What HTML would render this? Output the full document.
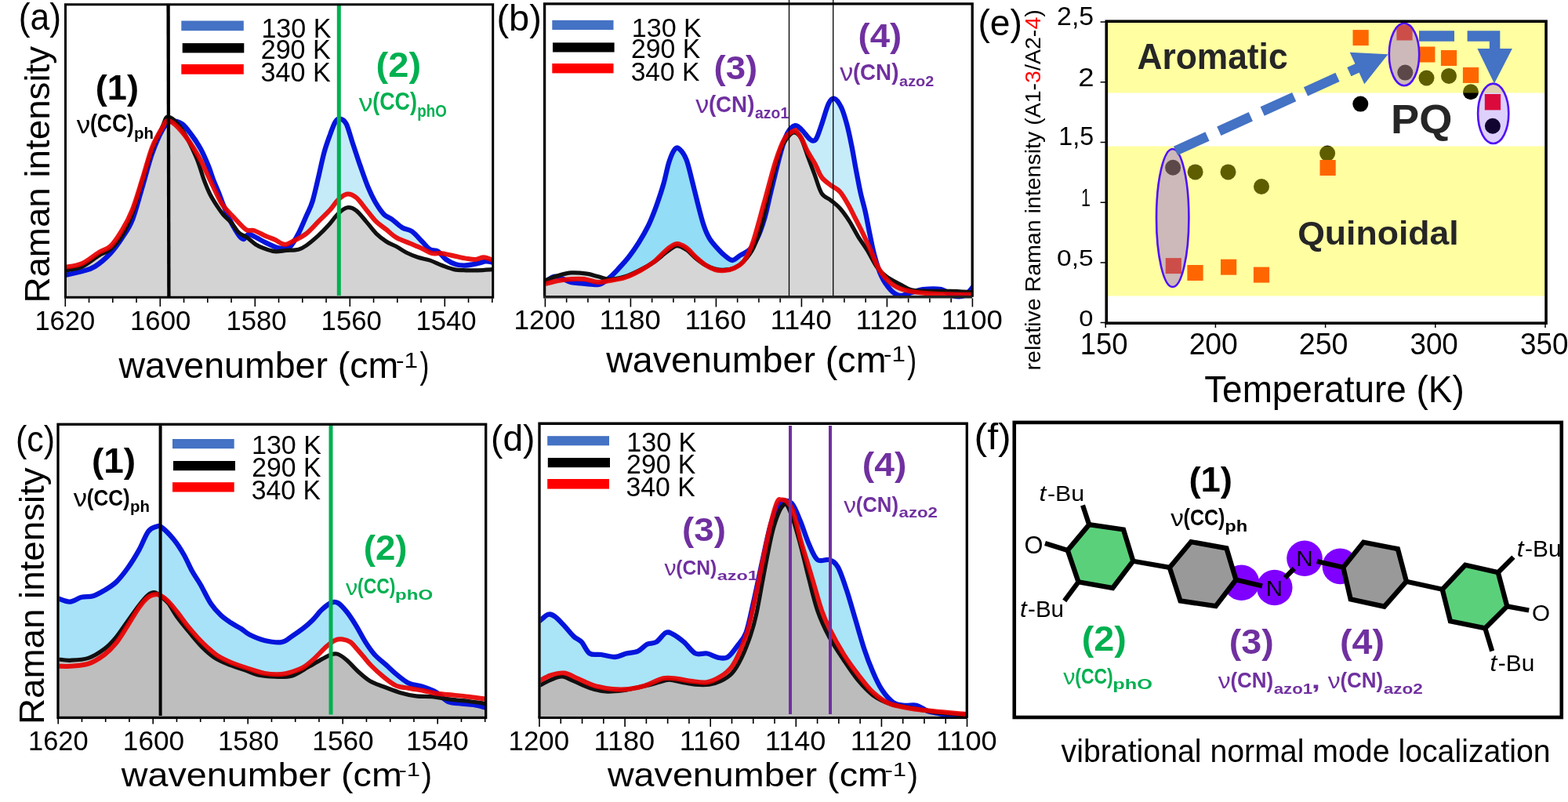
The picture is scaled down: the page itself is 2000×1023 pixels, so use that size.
<!DOCTYPE html>
<html><head><meta charset="utf-8"><title>Raman figure</title>
<style>
html,body{margin:0;padding:0;background:#fff;}
body{width:2000px;height:1023px;overflow:hidden;}
svg{display:block;}
text{font-family:"Liberation Sans",Arial,sans-serif;}
</style></head>
<body>
<svg width="2000" height="1023" viewBox="0 0 2000 1023">
<rect width="2000" height="1023" fill="#fff"/>
<clipPath id="ca"><rect x="84.5" y="6" width="544.5" height="373.5"/></clipPath>
<g clip-path="url(#ca)">
<path d="M83.0,351.0C86.7,350.2 98.7,347.8 105.0,346.0C111.3,344.2 115.0,343.8 121.0,340.0C127.0,336.2 135.2,329.2 141.0,323.0C146.8,316.8 151.3,310.2 156.0,303.0C160.7,295.8 164.7,291.0 169.0,280.0C173.3,269.0 177.8,251.0 182.0,237.0C186.2,223.0 189.8,207.8 194.0,196.0C198.2,184.2 203.2,172.8 207.0,166.0C210.8,159.2 212.8,156.3 217.0,155.0C221.2,153.7 227.3,155.0 232.0,158.0C236.7,161.0 241.0,167.7 245.0,173.0C249.0,178.3 252.5,183.5 256.0,190.0C259.5,196.5 263.3,205.3 266.0,212.0C268.7,218.7 270.1,224.3 272.3,230.0C274.5,235.7 276.9,240.6 279.0,246.0C281.1,251.4 282.9,256.6 285.2,262.3C287.5,268.0 290.5,274.9 293.0,280.0C295.5,285.1 297.8,289.3 300.0,293.0C302.2,296.7 304.2,300.0 306.0,302.0C307.8,304.0 309.2,305.5 311.0,305.0C312.8,304.5 314.3,299.3 317.0,299.0C319.7,298.7 323.7,301.4 327.0,303.0C330.3,304.6 332.5,306.3 337.0,308.5C341.5,310.7 349.5,314.7 354.0,316.0C358.5,317.3 361.2,316.8 364.0,316.5C366.8,316.2 367.7,317.4 370.5,314.3C373.3,311.2 377.3,304.4 380.7,297.8C384.1,291.2 387.9,281.8 390.9,275.0C393.9,268.2 396.0,265.1 398.5,257.0C401.0,248.9 403.5,237.2 406.0,226.6C408.5,216.0 411.1,202.9 413.7,193.6C416.3,184.3 419.1,177.1 421.4,170.7C423.7,164.3 425.6,158.6 427.7,155.4C429.8,152.2 431.7,151.2 434.0,151.6C436.3,152.0 439.1,153.1 441.7,158.0C444.2,162.9 446.3,172.0 449.3,180.9C452.3,189.8 456.1,201.7 459.5,211.4C462.9,221.1 466.3,231.2 469.7,239.3C473.1,247.4 476.4,254.0 479.8,259.7C483.2,265.4 486.6,270.3 490.0,273.7C493.4,277.1 496.4,277.2 500.2,280.0C504.0,282.8 508.7,287.6 512.9,290.2C517.1,292.8 521.4,292.3 525.6,295.3C529.8,298.3 534.5,304.2 538.3,308.0C542.1,311.8 545.1,316.1 548.5,318.2C551.9,320.3 555.3,318.6 558.7,320.7C562.1,322.8 565.0,328.1 568.8,330.9C572.6,333.6 577.2,335.9 581.5,337.2C585.8,338.5 589.6,338.7 594.3,338.5C599.0,338.3 605.3,336.9 609.5,336.0C613.7,335.1 616.5,333.6 619.7,333.4C623.0,333.2 627.5,334.5 629.0,334.7L629.0,379.5L83.0,379.5Z" fill="#c5ebf9"/>
<path d="M83.0,341.0C86.7,340.2 97.8,339.2 105.0,336.0C112.2,332.8 120.0,325.7 126.0,322.0C132.0,318.3 136.0,318.8 141.0,314.0C146.0,309.2 151.3,300.8 156.0,293.0C160.7,285.2 164.7,278.0 169.0,267.0C173.3,256.0 177.8,240.2 182.0,227.0C186.2,213.8 189.8,198.7 194.0,188.0C198.2,177.3 203.5,168.7 207.0,163.0C210.5,157.3 210.8,153.2 215.0,154.0C219.2,154.8 225.7,160.5 232.0,168.0C238.3,175.5 246.7,188.0 253.0,199.0C259.3,210.0 265.0,223.8 270.0,234.0C275.0,244.2 278.3,252.8 283.0,260.0C287.7,267.2 292.8,271.5 298.0,277.0C303.2,282.5 309.7,290.2 314.0,293.0C318.3,295.8 319.7,292.6 324.0,294.0C328.3,295.4 335.6,299.7 340.0,301.6C344.4,303.5 346.4,303.7 350.2,305.4C354.0,307.1 358.7,311.6 362.9,311.8C367.1,312.0 370.9,309.0 375.6,306.7C380.3,304.4 385.8,301.8 390.9,297.8C396.0,293.8 401.0,287.7 406.1,282.6C411.2,277.5 417.2,272.0 421.4,267.3C425.6,262.6 427.9,257.9 431.5,254.6C435.1,251.3 439.2,247.9 443.0,247.5C446.8,247.1 450.4,248.7 454.4,252.0C458.4,255.3 462.9,262.2 467.1,267.3C471.3,272.4 475.6,278.4 479.8,282.6C484.1,286.8 488.4,289.3 492.6,292.7C496.9,296.1 500.2,299.9 505.3,302.9C510.4,305.9 517.6,308.2 523.1,310.5C528.6,312.8 533.6,314.8 538.3,316.9C542.9,319.0 546.8,322.1 551.0,323.2C555.2,324.2 558.6,322.6 563.7,323.2C568.8,323.8 576.4,325.9 581.5,327.0C586.6,328.1 590.0,329.0 594.3,329.6C598.5,330.2 603.2,331.1 607.0,330.9C610.8,330.7 613.5,328.1 617.2,328.3C620.9,328.5 627.0,331.4 629.0,332.0L629.0,379.5L83.0,379.5Z" fill="#fff"/>
<path d="M83.0,345.0C86.7,344.2 97.8,343.2 105.0,340.0C112.2,336.8 120.0,329.7 126.0,326.0C132.0,322.3 136.0,322.3 141.0,318.0C146.0,313.7 151.3,307.7 156.0,300.0C160.7,292.3 164.7,283.7 169.0,272.0C173.3,260.3 177.8,243.5 182.0,230.0C186.2,216.5 189.8,202.3 194.0,191.0C198.2,179.7 203.6,169.0 207.0,162.0C210.4,155.0 210.5,148.5 214.7,149.0C218.9,149.5 226.1,156.5 232.0,165.0C237.9,173.5 245.3,189.2 250.0,200.0C254.7,210.8 257.4,222.0 260.4,230.0C263.4,238.0 265.3,242.6 268.0,248.0C270.7,253.4 273.8,258.0 276.6,262.3C279.4,266.6 282.0,270.4 285.0,274.0C288.0,277.6 291.6,280.0 294.8,283.8C298.1,287.6 301.1,293.5 304.5,296.7C307.9,299.9 311.7,300.6 315.3,303.1C318.9,305.6 322.6,309.5 326.0,311.7C329.4,313.9 332.0,315.0 336.0,316.5C340.0,318.0 345.3,320.2 350.2,320.7C355.1,321.2 360.3,319.8 365.4,319.4C370.5,319.0 376.4,319.3 380.7,318.2C384.9,317.1 386.7,316.0 390.9,313.0C395.1,310.0 401.5,304.6 406.1,300.4C410.8,296.2 414.6,292.3 418.8,287.6C423.0,282.9 427.5,276.2 431.5,272.4C435.5,268.6 439.2,265.4 443.0,264.8C446.8,264.2 450.4,265.6 454.4,268.6C458.4,271.6 462.9,277.7 467.1,282.6C471.3,287.5 475.6,293.6 479.8,297.8C484.1,302.0 488.4,305.2 492.6,308.0C496.9,310.8 501.1,312.0 505.3,314.3C509.5,316.6 513.4,319.7 518.0,322.0C522.6,324.3 528.1,326.6 533.2,328.3C538.3,330.0 543.4,330.4 548.5,332.1C553.6,333.8 558.6,336.6 563.7,338.5C568.8,340.4 573.9,342.6 579.0,343.6C584.1,344.7 589.2,344.6 594.3,344.8C599.4,345.0 603.7,345.0 609.5,344.8C615.3,344.6 625.8,343.8 629.0,343.6L629.0,379.5L83.0,379.5Z" fill="#d3d3d3"/>
<path d="M83.0,351.0C86.7,350.2 98.7,347.8 105.0,346.0C111.3,344.2 115.0,343.8 121.0,340.0C127.0,336.2 135.2,329.2 141.0,323.0C146.8,316.8 151.3,310.2 156.0,303.0C160.7,295.8 164.7,291.0 169.0,280.0C173.3,269.0 177.8,251.0 182.0,237.0C186.2,223.0 189.8,207.8 194.0,196.0C198.2,184.2 203.2,172.8 207.0,166.0C210.8,159.2 212.8,156.3 217.0,155.0C221.2,153.7 227.3,155.0 232.0,158.0C236.7,161.0 241.0,167.7 245.0,173.0C249.0,178.3 252.5,183.5 256.0,190.0C259.5,196.5 263.3,205.3 266.0,212.0C268.7,218.7 270.1,224.3 272.3,230.0C274.5,235.7 276.9,240.6 279.0,246.0C281.1,251.4 282.9,256.6 285.2,262.3C287.5,268.0 290.5,274.9 293.0,280.0C295.5,285.1 297.8,289.3 300.0,293.0C302.2,296.7 304.2,300.0 306.0,302.0C307.8,304.0 309.2,305.5 311.0,305.0C312.8,304.5 314.3,299.3 317.0,299.0C319.7,298.7 323.7,301.4 327.0,303.0C330.3,304.6 332.5,306.3 337.0,308.5C341.5,310.7 349.5,314.7 354.0,316.0C358.5,317.3 361.2,316.8 364.0,316.5C366.8,316.2 367.7,317.4 370.5,314.3C373.3,311.2 377.3,304.4 380.7,297.8C384.1,291.2 387.9,281.8 390.9,275.0C393.9,268.2 396.0,265.1 398.5,257.0C401.0,248.9 403.5,237.2 406.0,226.6C408.5,216.0 411.1,202.9 413.7,193.6C416.3,184.3 419.1,177.1 421.4,170.7C423.7,164.3 425.6,158.6 427.7,155.4C429.8,152.2 431.7,151.2 434.0,151.6C436.3,152.0 439.1,153.1 441.7,158.0C444.2,162.9 446.3,172.0 449.3,180.9C452.3,189.8 456.1,201.7 459.5,211.4C462.9,221.1 466.3,231.2 469.7,239.3C473.1,247.4 476.4,254.0 479.8,259.7C483.2,265.4 486.6,270.3 490.0,273.7C493.4,277.1 496.4,277.2 500.2,280.0C504.0,282.8 508.7,287.6 512.9,290.2C517.1,292.8 521.4,292.3 525.6,295.3C529.8,298.3 534.5,304.2 538.3,308.0C542.1,311.8 545.1,316.1 548.5,318.2C551.9,320.3 555.3,318.6 558.7,320.7C562.1,322.8 565.0,328.1 568.8,330.9C572.6,333.6 577.2,335.9 581.5,337.2C585.8,338.5 589.6,338.7 594.3,338.5C599.0,338.3 605.3,336.9 609.5,336.0C613.7,335.1 616.5,333.6 619.7,333.4C623.0,333.2 627.5,334.5 629.0,334.7" fill="none" stroke="#0515dc" stroke-width="6.3" stroke-linejoin="round"/>
<path d="M83.0,345.0C86.7,344.2 97.8,343.2 105.0,340.0C112.2,336.8 120.0,329.7 126.0,326.0C132.0,322.3 136.0,322.3 141.0,318.0C146.0,313.7 151.3,307.7 156.0,300.0C160.7,292.3 164.7,283.7 169.0,272.0C173.3,260.3 177.8,243.5 182.0,230.0C186.2,216.5 189.8,202.3 194.0,191.0C198.2,179.7 203.6,169.0 207.0,162.0C210.4,155.0 210.5,148.5 214.7,149.0C218.9,149.5 226.1,156.5 232.0,165.0C237.9,173.5 245.3,189.2 250.0,200.0C254.7,210.8 257.4,222.0 260.4,230.0C263.4,238.0 265.3,242.6 268.0,248.0C270.7,253.4 273.8,258.0 276.6,262.3C279.4,266.6 282.0,270.4 285.0,274.0C288.0,277.6 291.6,280.0 294.8,283.8C298.1,287.6 301.1,293.5 304.5,296.7C307.9,299.9 311.7,300.6 315.3,303.1C318.9,305.6 322.6,309.5 326.0,311.7C329.4,313.9 332.0,315.0 336.0,316.5C340.0,318.0 345.3,320.2 350.2,320.7C355.1,321.2 360.3,319.8 365.4,319.4C370.5,319.0 376.4,319.3 380.7,318.2C384.9,317.1 386.7,316.0 390.9,313.0C395.1,310.0 401.5,304.6 406.1,300.4C410.8,296.2 414.6,292.3 418.8,287.6C423.0,282.9 427.5,276.2 431.5,272.4C435.5,268.6 439.2,265.4 443.0,264.8C446.8,264.2 450.4,265.6 454.4,268.6C458.4,271.6 462.9,277.7 467.1,282.6C471.3,287.5 475.6,293.6 479.8,297.8C484.1,302.0 488.4,305.2 492.6,308.0C496.9,310.8 501.1,312.0 505.3,314.3C509.5,316.6 513.4,319.7 518.0,322.0C522.6,324.3 528.1,326.6 533.2,328.3C538.3,330.0 543.4,330.4 548.5,332.1C553.6,333.8 558.6,336.6 563.7,338.5C568.8,340.4 573.9,342.6 579.0,343.6C584.1,344.7 589.2,344.6 594.3,344.8C599.4,345.0 603.7,345.0 609.5,344.8C615.3,344.6 625.8,343.8 629.0,343.6" fill="none" stroke="#111111" stroke-width="5.2" stroke-linejoin="round"/>
<path d="M83.0,341.0C86.7,340.2 97.8,339.2 105.0,336.0C112.2,332.8 120.0,325.7 126.0,322.0C132.0,318.3 136.0,318.8 141.0,314.0C146.0,309.2 151.3,300.8 156.0,293.0C160.7,285.2 164.7,278.0 169.0,267.0C173.3,256.0 177.8,240.2 182.0,227.0C186.2,213.8 189.8,198.7 194.0,188.0C198.2,177.3 203.5,168.7 207.0,163.0C210.5,157.3 210.8,153.2 215.0,154.0C219.2,154.8 225.7,160.5 232.0,168.0C238.3,175.5 246.7,188.0 253.0,199.0C259.3,210.0 265.0,223.8 270.0,234.0C275.0,244.2 278.3,252.8 283.0,260.0C287.7,267.2 292.8,271.5 298.0,277.0C303.2,282.5 309.7,290.2 314.0,293.0C318.3,295.8 319.7,292.6 324.0,294.0C328.3,295.4 335.6,299.7 340.0,301.6C344.4,303.5 346.4,303.7 350.2,305.4C354.0,307.1 358.7,311.6 362.9,311.8C367.1,312.0 370.9,309.0 375.6,306.7C380.3,304.4 385.8,301.8 390.9,297.8C396.0,293.8 401.0,287.7 406.1,282.6C411.2,277.5 417.2,272.0 421.4,267.3C425.6,262.6 427.9,257.9 431.5,254.6C435.1,251.3 439.2,247.9 443.0,247.5C446.8,247.1 450.4,248.7 454.4,252.0C458.4,255.3 462.9,262.2 467.1,267.3C471.3,272.4 475.6,278.4 479.8,282.6C484.1,286.8 488.4,289.3 492.6,292.7C496.9,296.1 500.2,299.9 505.3,302.9C510.4,305.9 517.6,308.2 523.1,310.5C528.6,312.8 533.6,314.8 538.3,316.9C542.9,319.0 546.8,322.1 551.0,323.2C555.2,324.2 558.6,322.6 563.7,323.2C568.8,323.8 576.4,325.9 581.5,327.0C586.6,328.1 590.0,329.0 594.3,329.6C598.5,330.2 603.2,331.1 607.0,330.9C610.8,330.7 613.5,328.1 617.2,328.3C620.9,328.5 627.0,331.4 629.0,332.0" fill="none" stroke="#e80000" stroke-width="6" stroke-linejoin="round" stroke-opacity="0.92"/>
</g>
<line x1="214.6" y1="6" x2="215.4" y2="379" stroke="#000" stroke-width="4.3"/>
<line x1="432.3" y1="6" x2="432.3" y2="377" stroke="#00b050" stroke-width="5"/>
<rect x="83.5" y="5.75" width="545.2" height="373.5" fill="none" stroke="#000" stroke-width="3"/>
<path d="M113.55,380.5V386.0M143.80,380.5V386.0M174.05,380.5V386.0M234.55,380.5V386.0M264.80,380.5V386.0M295.05,380.5V386.0M355.55,380.5V386.0M385.80,380.5V386.0M416.05,380.5V386.0M476.55,380.5V386.0M506.80,380.5V386.0M537.05,380.5V386.0M597.55,380.5V386.0M627.80,380.5V386.0M83.30,380.5V391.0M204.30,380.5V391.0M325.30,380.5V391.0M446.30,380.5V391.0M567.30,380.5V391.0" stroke="#000" stroke-width="1.6" fill="none"/>
<text x="44.41" y="420.65" font-size="35.21" style="font-weight:normal;font-style:normal" fill="#000" textLength="76.79" lengthAdjust="spacingAndGlyphs">1620</text>
<text x="166.10" y="420.65" font-size="35.21" style="font-weight:normal;font-style:normal" fill="#000" textLength="77.10" lengthAdjust="spacingAndGlyphs">1600</text>
<text x="288.40" y="420.65" font-size="35.21" style="font-weight:normal;font-style:normal" fill="#000" textLength="77.10" lengthAdjust="spacingAndGlyphs">1580</text>
<text x="409.60" y="420.65" font-size="35.21" style="font-weight:normal;font-style:normal" fill="#000" textLength="77.21" lengthAdjust="spacingAndGlyphs">1560</text>
<text x="530.40" y="420.65" font-size="35.21" style="font-weight:normal;font-style:normal" fill="#000" textLength="77.21" lengthAdjust="spacingAndGlyphs">1540</text>
<text x="151.50" y="482.32" font-size="46.10" style="font-weight:normal;font-style:normal" fill="#000" textLength="356.89" lengthAdjust="spacingAndGlyphs">wavenumber (cm</text>
<text x="504.98" y="468.90" font-size="27.39" style="font-weight:normal;font-style:normal" fill="#000" textLength="28.01" lengthAdjust="spacingAndGlyphs">-1</text>
<text x="535.62" y="482.32" font-size="46.10" style="font-weight:normal;font-style:normal" fill="#000" textLength="11.94" lengthAdjust="spacingAndGlyphs">)</text>
<text transform="translate(62.51,386.56) rotate(-90)" x="0" y="0" font-size="44.71" style="font-weight:normal;font-style:normal" fill="#000" textLength="327.66" lengthAdjust="spacingAndGlyphs">Raman intensity</text>
<text x="23.73" y="37.89" font-size="48.13" style="font-weight:normal;font-style:normal" fill="#000" textLength="54.34" lengthAdjust="spacingAndGlyphs">(a)</text>
<rect x="231.3" y="26.5" width="79.50" height="12.70" fill="#4472c4"/>
<rect x="232.7" y="55.1" width="78.60" height="12.30" fill="#000"/>
<rect x="231.3" y="82" width="79.50" height="12.70" fill="#ff0000"/>
<text x="333.45" y="47.65" font-size="34.93" style="font-weight:normal;font-style:normal" fill="#000" textLength="88.91" lengthAdjust="spacingAndGlyphs">130 K</text>
<text x="332.70" y="75.14" font-size="35.63" style="font-weight:normal;font-style:normal" fill="#000" textLength="89.06" lengthAdjust="spacingAndGlyphs">290 K</text>
<text x="332.53" y="103.64" font-size="35.56" style="font-weight:normal;font-style:normal" fill="#000" textLength="89.22" lengthAdjust="spacingAndGlyphs">340 K</text>
<text x="121.74" y="126.59" font-size="43.85" style="font-weight:bold;font-style:normal" fill="#000" textLength="55.19" lengthAdjust="spacingAndGlyphs">(1)</text>
<text x="97.80" y="170.00" font-size="31.35" style="font-weight:normal;font-style:normal" fill="#000" textLength="17.53" lengthAdjust="spacingAndGlyphs">ν</text>
<text x="115.08" y="168.43" font-size="30.80" style="font-weight:bold;font-style:normal" fill="#000" textLength="55.75" lengthAdjust="spacingAndGlyphs">(CC)</text>
<text x="170.97" y="176.89" font-size="20.98" style="font-weight:bold;font-style:normal" fill="#000" textLength="24.89" lengthAdjust="spacingAndGlyphs">ph</text>
<text x="479.64" y="98.18" font-size="44.39" style="font-weight:bold;font-style:normal" fill="#00b050" textLength="57.58" lengthAdjust="spacingAndGlyphs">(2)</text>
<text x="457.70" y="141.62" font-size="31.90" style="font-weight:normal;font-style:normal" fill="#00b050" textLength="17.83" lengthAdjust="spacingAndGlyphs">ν</text>
<text x="475.28" y="140.02" font-size="31.34" style="font-weight:bold;font-style:normal" fill="#00b050" textLength="56.72" lengthAdjust="spacingAndGlyphs">(CC)</text>
<text x="532.27" y="148.62" font-size="21.34" style="font-weight:bold;font-style:normal" fill="#00b050" textLength="37.47" lengthAdjust="spacingAndGlyphs">phO</text>
<clipPath id="cb"><rect x="696" y="5" width="545" height="377"/></clipPath>
<g clip-path="url(#cb)">
<path d="M695.9,358.9C697.7,357.9 703.4,353.4 706.9,352.8C710.4,352.2 712.9,354.0 716.6,355.2C720.3,356.4 724.8,359.1 728.9,360.1C733.0,361.1 736.9,360.9 741.0,361.3C745.1,361.7 749.2,362.4 753.3,362.6C757.4,362.8 761.4,364.0 765.5,362.6C769.6,361.2 773.6,357.5 777.7,354.0C781.8,350.5 785.9,345.9 790.0,341.5C794.1,337.1 798.1,332.8 802.2,327.5C806.3,322.2 810.3,316.5 814.4,310.0C818.5,303.5 822.9,296.0 826.6,288.5C830.3,281.0 833.1,273.6 836.4,264.8C839.6,256.0 843.2,245.3 846.1,235.5C849.0,225.7 851.0,213.7 853.5,206.2C856.0,198.7 858.6,193.0 860.8,190.3C863.0,187.7 864.4,188.1 866.9,190.3C869.4,192.5 872.9,197.0 875.5,203.7C878.1,210.4 880.4,221.2 882.8,230.6C885.2,240.0 887.7,250.6 890.1,260.0C892.5,269.4 895.0,279.5 897.4,286.8C899.8,294.1 901.9,299.0 904.8,303.9C907.6,308.8 911.2,312.4 914.5,316.1C917.8,319.8 921.0,323.2 924.3,325.9C927.6,328.5 930.8,332.0 934.1,332.0C937.4,332.0 940.2,328.1 943.9,325.9C947.5,323.7 952.3,322.3 956.0,318.6C959.7,314.9 962.6,310.8 965.9,303.9C969.2,297.0 972.7,287.0 975.6,277.0C978.5,267.0 980.2,257.1 983.5,243.7C986.8,230.3 991.8,209.0 995.2,196.8C998.6,184.6 1000.8,176.5 1004.0,170.4C1007.2,164.3 1011.1,160.8 1014.3,160.1C1017.5,159.4 1019.8,163.1 1023.0,166.0C1026.2,168.9 1030.4,175.8 1033.3,177.7C1036.2,179.6 1038.1,180.9 1040.6,177.7C1043.0,174.5 1045.3,166.3 1048.0,158.7C1050.7,151.1 1054.1,137.8 1056.8,132.3C1059.5,126.8 1061.4,125.1 1064.1,125.8C1066.8,126.5 1070.2,131.2 1072.9,136.7C1075.6,142.2 1078.0,150.6 1080.2,158.7C1082.4,166.8 1084.1,175.2 1086.1,185.0C1088.1,194.8 1090.0,207.0 1092.0,217.3C1094.0,227.6 1095.8,237.8 1097.8,246.6C1099.8,255.4 1101.7,261.2 1103.7,270.0C1105.7,278.8 1107.6,290.1 1109.6,299.4C1111.5,308.7 1113.0,317.0 1115.4,325.8C1117.8,334.6 1120.8,344.9 1124.2,352.2C1127.6,359.5 1132.1,365.6 1136.0,369.8C1139.9,374.0 1143.8,376.4 1147.7,377.1C1151.6,377.8 1154.5,375.5 1159.4,374.2C1164.3,372.9 1170.2,370.0 1177.0,369.2C1183.8,368.4 1194.2,367.9 1200.5,369.2C1206.8,370.5 1210.2,375.8 1215.1,377.1C1220.0,378.4 1225.5,379.0 1229.8,377.1C1234.1,375.2 1239.1,367.9 1241.0,366.0L1241.0,379.0L695.9,379.0Z" fill="#c6ecfa"/><clipPath id="cbl"><rect x="690" y="0" width="255" height="400"/></clipPath><path d="M695.9,358.9C697.7,357.9 703.4,353.4 706.9,352.8C710.4,352.2 712.9,354.0 716.6,355.2C720.3,356.4 724.8,359.1 728.9,360.1C733.0,361.1 736.9,360.9 741.0,361.3C745.1,361.7 749.2,362.4 753.3,362.6C757.4,362.8 761.4,364.0 765.5,362.6C769.6,361.2 773.6,357.5 777.7,354.0C781.8,350.5 785.9,345.9 790.0,341.5C794.1,337.1 798.1,332.8 802.2,327.5C806.3,322.2 810.3,316.5 814.4,310.0C818.5,303.5 822.9,296.0 826.6,288.5C830.3,281.0 833.1,273.6 836.4,264.8C839.6,256.0 843.2,245.3 846.1,235.5C849.0,225.7 851.0,213.7 853.5,206.2C856.0,198.7 858.6,193.0 860.8,190.3C863.0,187.7 864.4,188.1 866.9,190.3C869.4,192.5 872.9,197.0 875.5,203.7C878.1,210.4 880.4,221.2 882.8,230.6C885.2,240.0 887.7,250.6 890.1,260.0C892.5,269.4 895.0,279.5 897.4,286.8C899.8,294.1 901.9,299.0 904.8,303.9C907.6,308.8 911.2,312.4 914.5,316.1C917.8,319.8 921.0,323.2 924.3,325.9C927.6,328.5 930.8,332.0 934.1,332.0C937.4,332.0 940.2,328.1 943.9,325.9C947.5,323.7 952.3,322.3 956.0,318.6C959.7,314.9 962.6,310.8 965.9,303.9C969.2,297.0 972.7,287.0 975.6,277.0C978.5,267.0 980.2,257.1 983.5,243.7C986.8,230.3 991.8,209.0 995.2,196.8C998.6,184.6 1000.8,176.5 1004.0,170.4C1007.2,164.3 1011.1,160.8 1014.3,160.1C1017.5,159.4 1019.8,163.1 1023.0,166.0C1026.2,168.9 1030.4,175.8 1033.3,177.7C1036.2,179.6 1038.1,180.9 1040.6,177.7C1043.0,174.5 1045.3,166.3 1048.0,158.7C1050.7,151.1 1054.1,137.8 1056.8,132.3C1059.5,126.8 1061.4,125.1 1064.1,125.8C1066.8,126.5 1070.2,131.2 1072.9,136.7C1075.6,142.2 1078.0,150.6 1080.2,158.7C1082.4,166.8 1084.1,175.2 1086.1,185.0C1088.1,194.8 1090.0,207.0 1092.0,217.3C1094.0,227.6 1095.8,237.8 1097.8,246.6C1099.8,255.4 1101.7,261.2 1103.7,270.0C1105.7,278.8 1107.6,290.1 1109.6,299.4C1111.5,308.7 1113.0,317.0 1115.4,325.8C1117.8,334.6 1120.8,344.9 1124.2,352.2C1127.6,359.5 1132.1,365.6 1136.0,369.8C1139.9,374.0 1143.8,376.4 1147.7,377.1C1151.6,377.8 1154.5,375.5 1159.4,374.2C1164.3,372.9 1170.2,370.0 1177.0,369.2C1183.8,368.4 1194.2,367.9 1200.5,369.2C1206.8,370.5 1210.2,375.8 1215.1,377.1C1220.0,378.4 1225.5,379.0 1229.8,377.1C1234.1,375.2 1239.1,367.9 1241.0,366.0L1241.0,379.0L695.9,379.0Z" fill="#93ddf6" clip-path="url(#cbl)"/>
<path d="M695.9,362.0C698.6,361.3 706.5,359.0 712.0,358.0C717.5,357.0 723.4,356.3 728.9,356.0C734.4,355.7 739.3,355.3 745.0,356.0C750.7,356.7 757.5,359.7 763.0,360.0C768.5,360.3 772.0,359.0 777.7,358.0C783.4,357.0 790.8,356.2 797.3,354.0C803.8,351.8 810.7,348.3 816.8,345.0C822.9,341.7 828.2,338.5 833.9,334.0C839.6,329.5 846.1,321.8 851.0,318.0C855.9,314.2 859.1,311.3 863.2,311.0C867.3,310.7 871.4,313.2 875.5,316.0C879.6,318.8 883.6,324.3 887.7,328.0C891.8,331.7 895.8,335.3 899.9,338.0C904.0,340.7 908.0,342.8 912.1,344.0C916.2,345.2 920.2,345.3 924.3,345.0C928.4,344.7 932.4,344.0 936.5,342.0C940.6,340.0 944.8,338.3 948.7,333.0C952.6,327.7 955.7,322.4 960.0,310.0C964.3,297.6 969.8,275.8 974.7,258.4C979.6,241.0 984.9,219.3 989.3,205.6C993.7,191.9 997.1,182.7 1001.1,176.2C1005.1,169.7 1010.6,167.7 1013.3,166.5C1015.9,165.3 1015.5,167.3 1017.0,169.0C1018.5,170.7 1020.2,172.5 1022.4,176.5C1024.6,180.5 1027.1,187.4 1030.0,193.0C1032.9,198.6 1037.0,204.2 1040.0,209.8C1043.0,215.4 1044.9,222.0 1048.2,226.4C1051.5,230.8 1055.9,233.4 1059.8,236.4C1063.7,239.4 1067.6,240.3 1071.5,244.7C1075.4,249.1 1080.0,257.7 1083.0,263.0C1086.0,268.3 1087.3,271.5 1089.8,276.3C1092.3,281.1 1094.5,285.2 1097.8,292.0C1101.1,298.8 1105.7,308.4 1109.6,317.0C1113.5,325.6 1116.9,336.1 1121.3,343.4C1125.7,350.7 1130.6,356.6 1136.0,361.0C1141.4,365.4 1145.7,367.6 1153.5,369.8C1161.3,372.0 1171.2,373.2 1182.9,374.2C1194.6,375.2 1214.2,375.4 1223.9,375.7C1233.6,375.9 1238.2,375.7 1241.0,375.7L1241.0,378.5L695.9,378.5Z" fill="#fff"/>
<path d="M695.9,357.7C698.5,356.7 706.3,353.2 711.8,351.6C717.3,350.0 722.8,348.3 728.9,347.9C735.0,347.5 742.7,348.3 748.4,349.1C754.1,349.9 758.1,351.6 763.0,352.8C767.9,354.0 772.0,356.4 777.7,356.4C783.4,356.4 790.8,354.8 797.3,352.8C803.8,350.8 810.7,347.2 816.8,344.2C822.9,341.1 828.2,338.4 833.9,334.5C839.6,330.6 846.1,324.5 851.0,321.0C855.9,317.5 859.1,314.1 863.2,313.7C867.3,313.3 871.4,316.0 875.5,318.6C879.6,321.2 883.6,326.4 887.7,329.6C891.8,332.9 895.8,335.9 899.9,338.1C904.0,340.3 908.0,342.0 912.1,343.0C916.2,344.0 920.2,344.4 924.3,344.2C928.4,344.0 932.4,343.6 936.5,341.8C940.6,340.0 944.6,337.5 948.7,333.2C952.8,328.9 957.1,324.0 961.0,316.0C964.9,308.0 968.2,298.5 972.0,285.0C975.8,271.5 979.6,250.5 983.5,235.0C987.4,219.5 991.8,201.8 995.2,192.0C998.6,182.2 1001.1,180.0 1004.0,176.2C1006.9,172.3 1009.9,168.9 1012.8,168.9C1015.7,168.9 1018.7,171.1 1021.6,176.2C1024.5,181.3 1027.5,191.9 1030.4,199.7C1033.3,207.5 1036.3,215.4 1039.2,223.2C1042.1,231.0 1044.6,241.2 1048.0,246.6C1051.4,252.0 1055.8,252.2 1059.7,255.4C1063.6,258.6 1067.5,261.3 1071.4,265.7C1075.3,270.1 1079.3,275.7 1083.2,281.8C1087.1,287.9 1091.0,296.0 1094.9,302.3C1098.8,308.6 1102.7,313.5 1106.6,319.9C1110.5,326.3 1114.5,335.1 1118.4,340.5C1122.3,345.9 1125.2,348.5 1130.1,352.2C1135.0,355.9 1142.3,359.6 1147.7,362.5C1153.1,365.4 1156.4,368.3 1162.3,369.8C1168.2,371.3 1174.6,371.1 1182.9,371.3C1191.2,371.6 1202.5,371.1 1212.2,371.3C1221.9,371.5 1236.2,372.5 1241.0,372.7L1241.0,378.5L695.9,378.5Z" fill="#d6d6d6"/>
<path d="M695.9,358.9C697.7,357.9 703.4,353.4 706.9,352.8C710.4,352.2 712.9,354.0 716.6,355.2C720.3,356.4 724.8,359.1 728.9,360.1C733.0,361.1 736.9,360.9 741.0,361.3C745.1,361.7 749.2,362.4 753.3,362.6C757.4,362.8 761.4,364.0 765.5,362.6C769.6,361.2 773.6,357.5 777.7,354.0C781.8,350.5 785.9,345.9 790.0,341.5C794.1,337.1 798.1,332.8 802.2,327.5C806.3,322.2 810.3,316.5 814.4,310.0C818.5,303.5 822.9,296.0 826.6,288.5C830.3,281.0 833.1,273.6 836.4,264.8C839.6,256.0 843.2,245.3 846.1,235.5C849.0,225.7 851.0,213.7 853.5,206.2C856.0,198.7 858.6,193.0 860.8,190.3C863.0,187.7 864.4,188.1 866.9,190.3C869.4,192.5 872.9,197.0 875.5,203.7C878.1,210.4 880.4,221.2 882.8,230.6C885.2,240.0 887.7,250.6 890.1,260.0C892.5,269.4 895.0,279.5 897.4,286.8C899.8,294.1 901.9,299.0 904.8,303.9C907.6,308.8 911.2,312.4 914.5,316.1C917.8,319.8 921.0,323.2 924.3,325.9C927.6,328.5 930.8,332.0 934.1,332.0C937.4,332.0 940.2,328.1 943.9,325.9C947.5,323.7 952.3,322.3 956.0,318.6C959.7,314.9 962.6,310.8 965.9,303.9C969.2,297.0 972.7,287.0 975.6,277.0C978.5,267.0 980.2,257.1 983.5,243.7C986.8,230.3 991.8,209.0 995.2,196.8C998.6,184.6 1000.8,176.5 1004.0,170.4C1007.2,164.3 1011.1,160.8 1014.3,160.1C1017.5,159.4 1019.8,163.1 1023.0,166.0C1026.2,168.9 1030.4,175.8 1033.3,177.7C1036.2,179.6 1038.1,180.9 1040.6,177.7C1043.0,174.5 1045.3,166.3 1048.0,158.7C1050.7,151.1 1054.1,137.8 1056.8,132.3C1059.5,126.8 1061.4,125.1 1064.1,125.8C1066.8,126.5 1070.2,131.2 1072.9,136.7C1075.6,142.2 1078.0,150.6 1080.2,158.7C1082.4,166.8 1084.1,175.2 1086.1,185.0C1088.1,194.8 1090.0,207.0 1092.0,217.3C1094.0,227.6 1095.8,237.8 1097.8,246.6C1099.8,255.4 1101.7,261.2 1103.7,270.0C1105.7,278.8 1107.6,290.1 1109.6,299.4C1111.5,308.7 1113.0,317.0 1115.4,325.8C1117.8,334.6 1120.8,344.9 1124.2,352.2C1127.6,359.5 1132.1,365.6 1136.0,369.8C1139.9,374.0 1143.8,376.4 1147.7,377.1C1151.6,377.8 1154.5,375.5 1159.4,374.2C1164.3,372.9 1170.2,370.0 1177.0,369.2C1183.8,368.4 1194.2,367.9 1200.5,369.2C1206.8,370.5 1210.2,375.8 1215.1,377.1C1220.0,378.4 1225.5,379.0 1229.8,377.1C1234.1,375.2 1239.1,367.9 1241.0,366.0" fill="none" stroke="#0515dc" stroke-width="6.3" stroke-linejoin="round"/>
<path d="M695.9,357.7C698.5,356.7 706.3,353.2 711.8,351.6C717.3,350.0 722.8,348.3 728.9,347.9C735.0,347.5 742.7,348.3 748.4,349.1C754.1,349.9 758.1,351.6 763.0,352.8C767.9,354.0 772.0,356.4 777.7,356.4C783.4,356.4 790.8,354.8 797.3,352.8C803.8,350.8 810.7,347.2 816.8,344.2C822.9,341.1 828.2,338.4 833.9,334.5C839.6,330.6 846.1,324.5 851.0,321.0C855.9,317.5 859.1,314.1 863.2,313.7C867.3,313.3 871.4,316.0 875.5,318.6C879.6,321.2 883.6,326.4 887.7,329.6C891.8,332.9 895.8,335.9 899.9,338.1C904.0,340.3 908.0,342.0 912.1,343.0C916.2,344.0 920.2,344.4 924.3,344.2C928.4,344.0 932.4,343.6 936.5,341.8C940.6,340.0 944.6,337.5 948.7,333.2C952.8,328.9 957.1,324.0 961.0,316.0C964.9,308.0 968.2,298.5 972.0,285.0C975.8,271.5 979.6,250.5 983.5,235.0C987.4,219.5 991.8,201.8 995.2,192.0C998.6,182.2 1001.1,180.0 1004.0,176.2C1006.9,172.3 1009.9,168.9 1012.8,168.9C1015.7,168.9 1018.7,171.1 1021.6,176.2C1024.5,181.3 1027.5,191.9 1030.4,199.7C1033.3,207.5 1036.3,215.4 1039.2,223.2C1042.1,231.0 1044.6,241.2 1048.0,246.6C1051.4,252.0 1055.8,252.2 1059.7,255.4C1063.6,258.6 1067.5,261.3 1071.4,265.7C1075.3,270.1 1079.3,275.7 1083.2,281.8C1087.1,287.9 1091.0,296.0 1094.9,302.3C1098.8,308.6 1102.7,313.5 1106.6,319.9C1110.5,326.3 1114.5,335.1 1118.4,340.5C1122.3,345.9 1125.2,348.5 1130.1,352.2C1135.0,355.9 1142.3,359.6 1147.7,362.5C1153.1,365.4 1156.4,368.3 1162.3,369.8C1168.2,371.3 1174.6,371.1 1182.9,371.3C1191.2,371.6 1202.5,371.1 1212.2,371.3C1221.9,371.5 1236.2,372.5 1241.0,372.7" fill="none" stroke="#111111" stroke-width="5.2" stroke-linejoin="round"/>
<path d="M695.9,362.0C698.6,361.3 706.5,359.0 712.0,358.0C717.5,357.0 723.4,356.3 728.9,356.0C734.4,355.7 739.3,355.3 745.0,356.0C750.7,356.7 757.5,359.7 763.0,360.0C768.5,360.3 772.0,359.0 777.7,358.0C783.4,357.0 790.8,356.2 797.3,354.0C803.8,351.8 810.7,348.3 816.8,345.0C822.9,341.7 828.2,338.5 833.9,334.0C839.6,329.5 846.1,321.8 851.0,318.0C855.9,314.2 859.1,311.3 863.2,311.0C867.3,310.7 871.4,313.2 875.5,316.0C879.6,318.8 883.6,324.3 887.7,328.0C891.8,331.7 895.8,335.3 899.9,338.0C904.0,340.7 908.0,342.8 912.1,344.0C916.2,345.2 920.2,345.3 924.3,345.0C928.4,344.7 932.4,344.0 936.5,342.0C940.6,340.0 944.8,338.3 948.7,333.0C952.6,327.7 955.7,322.4 960.0,310.0C964.3,297.6 969.8,275.8 974.7,258.4C979.6,241.0 984.9,219.3 989.3,205.6C993.7,191.9 997.1,182.7 1001.1,176.2C1005.1,169.7 1010.6,167.7 1013.3,166.5C1015.9,165.3 1015.5,167.3 1017.0,169.0C1018.5,170.7 1020.2,172.5 1022.4,176.5C1024.6,180.5 1027.1,187.4 1030.0,193.0C1032.9,198.6 1037.0,204.2 1040.0,209.8C1043.0,215.4 1044.9,222.0 1048.2,226.4C1051.5,230.8 1055.9,233.4 1059.8,236.4C1063.7,239.4 1067.6,240.3 1071.5,244.7C1075.4,249.1 1080.0,257.7 1083.0,263.0C1086.0,268.3 1087.3,271.5 1089.8,276.3C1092.3,281.1 1094.5,285.2 1097.8,292.0C1101.1,298.8 1105.7,308.4 1109.6,317.0C1113.5,325.6 1116.9,336.1 1121.3,343.4C1125.7,350.7 1130.6,356.6 1136.0,361.0C1141.4,365.4 1145.7,367.6 1153.5,369.8C1161.3,372.0 1171.2,373.2 1182.9,374.2C1194.6,375.2 1214.2,375.4 1223.9,375.7C1233.6,375.9 1238.2,375.7 1241.0,375.7" fill="none" stroke="#e80000" stroke-width="6" stroke-linejoin="round" stroke-opacity="0.92"/>
</g>
<line x1="1006.5" y1="0" x2="1006.5" y2="377" stroke="#000" stroke-width="1.3"/>
<line x1="1062.7" y1="0" x2="1062.7" y2="377" stroke="#000" stroke-width="1.3"/>
<rect x="694.5" y="4.9" width="546" height="471.9" fill="none" stroke="#000" stroke-width="3" style="display:none"/>
<path d="M694.6,378.7V4.9H1240.2V378.7" fill="none" stroke="#000" stroke-width="3.3"/>
<path d="M693,378.7H1240" fill="none" stroke="#222" stroke-width="3.4"/>
<path d="M722.65,380.4V385.79999999999995M749.90,380.4V385.79999999999995M777.15,380.4V385.79999999999995M831.65,380.4V385.79999999999995M858.90,380.4V385.79999999999995M886.15,380.4V385.79999999999995M940.65,380.4V385.79999999999995M967.90,380.4V385.79999999999995M995.15,380.4V385.79999999999995M1049.65,380.4V385.79999999999995M1076.90,380.4V385.79999999999995M1104.15,380.4V385.79999999999995M1158.65,380.4V385.79999999999995M1185.90,380.4V385.79999999999995M1213.15,380.4V385.79999999999995M695.40,380.4V391.4M804.40,380.4V391.4M913.40,380.4V391.4M1022.40,380.4V391.4M1131.40,380.4V391.4M1240.40,380.4V391.4" stroke="#000" stroke-width="1.6" fill="none"/>
<text x="655.56" y="420.05" font-size="35.49" style="font-weight:normal;font-style:normal" fill="#000" textLength="78.26" lengthAdjust="spacingAndGlyphs">1200</text>
<text x="764.46" y="420.05" font-size="35.49" style="font-weight:normal;font-style:normal" fill="#000" textLength="78.43" lengthAdjust="spacingAndGlyphs">1180</text>
<text x="873.46" y="420.05" font-size="35.49" style="font-weight:normal;font-style:normal" fill="#000" textLength="78.43" lengthAdjust="spacingAndGlyphs">1160</text>
<text x="982.46" y="420.05" font-size="35.49" style="font-weight:normal;font-style:normal" fill="#000" textLength="78.43" lengthAdjust="spacingAndGlyphs">1140</text>
<text x="1091.46" y="420.05" font-size="35.49" style="font-weight:normal;font-style:normal" fill="#000" textLength="78.43" lengthAdjust="spacingAndGlyphs">1120</text>
<text x="1200.46" y="420.05" font-size="35.49" style="font-weight:normal;font-style:normal" fill="#000" textLength="78.43" lengthAdjust="spacingAndGlyphs">1100</text>
<text x="773.20" y="474.92" font-size="46.10" style="font-weight:normal;font-style:normal" fill="#000" textLength="357.29" lengthAdjust="spacingAndGlyphs">wavenumber (cm</text>
<text x="1127.09" y="461.40" font-size="27.25" style="font-weight:normal;font-style:normal" fill="#000" textLength="27.79" lengthAdjust="spacingAndGlyphs">-1</text>
<text x="1157.32" y="474.92" font-size="46.10" style="font-weight:normal;font-style:normal" fill="#000" textLength="11.94" lengthAdjust="spacingAndGlyphs">)</text>
<text x="633.49" y="39.46" font-size="46.84" style="font-weight:normal;font-style:normal" fill="#000" textLength="57.34" lengthAdjust="spacingAndGlyphs">(b)</text>
<rect x="704.3" y="25.8" width="78.20" height="12.20" fill="#4472c4"/>
<rect x="705" y="54.4" width="78.60" height="12.10" fill="#000"/>
<rect x="704.3" y="81" width="78.20" height="12.40" fill="#ff0000"/>
<text x="805.74" y="46.56" font-size="34.08" style="font-weight:normal;font-style:normal" fill="#000" textLength="89.11" lengthAdjust="spacingAndGlyphs">130 K</text>
<text x="805.11" y="73.96" font-size="34.23" style="font-weight:normal;font-style:normal" fill="#000" textLength="88.14" lengthAdjust="spacingAndGlyphs">290 K</text>
<text x="804.66" y="102.86" font-size="34.08" style="font-weight:normal;font-style:normal" fill="#000" textLength="87.79" lengthAdjust="spacingAndGlyphs">340 K</text>
<text x="910.52" y="101.42" font-size="42.78" style="font-weight:bold;font-style:normal" fill="#7030a0" textLength="55.63" lengthAdjust="spacingAndGlyphs">(3)</text>
<text x="887.20" y="144.04" font-size="30.48" style="font-weight:normal;font-style:normal" fill="#7030a0" textLength="17.04" lengthAdjust="spacingAndGlyphs">ν</text>
<text x="903.90" y="142.51" font-size="29.95" style="font-weight:bold;font-style:normal" fill="#7030a0" textLength="58.47" lengthAdjust="spacingAndGlyphs">(CN)</text>
<text x="963.11" y="151.01" font-size="19.44" style="font-weight:bold;font-style:normal" fill="#7030a0" textLength="43.04" lengthAdjust="spacingAndGlyphs">azo1</text>
<text x="1094.52" y="59.82" font-size="42.78" style="font-weight:bold;font-style:normal" fill="#7030a0" textLength="55.63" lengthAdjust="spacingAndGlyphs">(4)</text>
<text x="1071.20" y="103.24" font-size="30.48" style="font-weight:normal;font-style:normal" fill="#7030a0" textLength="17.04" lengthAdjust="spacingAndGlyphs">ν</text>
<text x="1087.90" y="101.71" font-size="29.95" style="font-weight:bold;font-style:normal" fill="#7030a0" textLength="58.47" lengthAdjust="spacingAndGlyphs">(CN)</text>
<text x="1147.10" y="110.22" font-size="19.17" style="font-weight:bold;font-style:normal" fill="#7030a0" textLength="44.16" lengthAdjust="spacingAndGlyphs">azo2</text>
<clipPath id="cc"><rect x="75.5" y="543" width="544.5" height="372.5"/></clipPath>
<g clip-path="url(#cc)">
<path d="M74.0,763.2C76.5,763.9 84.3,767.9 89.3,767.6C94.3,767.4 99.1,762.9 104.0,761.7C108.9,760.5 113.8,761.7 118.7,760.2C123.6,758.7 128.4,755.8 133.3,752.9C138.2,750.0 143.1,747.2 148.0,742.6C152.9,738.0 157.7,731.8 162.6,725.0C167.5,718.2 172.9,709.4 177.3,701.6C181.7,693.8 185.3,683.1 189.0,678.1C192.7,673.1 196.4,672.6 199.3,671.7C202.2,670.8 202.8,670.2 206.5,672.9C210.2,675.6 216.8,682.3 221.5,688.0C226.2,693.7 230.5,700.5 234.4,707.3C238.3,714.1 241.6,722.3 245.2,728.8C248.8,735.2 252.0,739.2 255.9,746.0C259.8,752.8 264.5,763.2 268.8,769.7C273.1,776.2 277.4,780.6 281.7,784.7C286.0,788.8 290.3,791.5 294.6,794.4C298.9,797.3 303.6,799.4 307.5,801.9C311.4,804.4 313.3,807.0 318.3,809.5C323.3,812.0 330.8,815.4 337.6,817.0C344.4,818.6 353.3,820.0 359.1,819.1C364.9,818.2 367.7,814.6 372.3,811.6C376.9,808.6 382.6,804.7 387.0,801.3C391.4,797.9 394.8,794.9 398.7,791.0C402.6,787.1 406.5,781.5 410.4,777.8C414.3,774.1 418.7,770.5 422.1,769.0C425.5,767.5 427.5,767.0 430.9,769.0C434.3,771.0 438.7,775.9 442.6,780.8C446.5,785.7 450.5,792.0 454.4,798.4C458.3,804.8 462.2,812.8 466.1,818.9C470.0,825.0 473.4,830.1 477.8,835.0C482.2,839.9 487.6,843.8 492.5,848.2C497.4,852.6 502.3,857.5 507.2,861.4C512.1,865.3 516.4,869.3 521.8,871.7C527.2,874.1 533.5,874.0 539.4,876.0C545.3,878.0 551.6,880.2 557.0,883.4C562.4,886.6 566.3,892.8 571.7,895.1C577.1,897.5 583.9,896.9 589.3,897.5C594.7,898.1 599.0,898.2 604.0,899.0C609.0,899.8 616.9,901.9 619.5,902.5L619.5,915.5L74.0,915.5Z" fill="#a8e2f8"/>
<path d="M74.0,849.7C76.5,849.7 82.8,850.2 89.3,849.7C95.8,849.2 105.5,849.2 112.8,846.7C120.1,844.2 127.4,839.4 133.3,835.0C139.2,830.6 143.1,826.5 148.0,820.4C152.9,814.3 157.7,806.0 162.6,798.4C167.5,790.8 172.9,781.0 177.3,774.9C181.7,768.8 185.1,764.5 189.0,761.7C192.9,758.9 196.8,757.7 200.8,758.3C204.8,758.9 208.7,761.7 212.9,765.4C217.1,769.1 221.5,775.0 225.8,780.4C230.1,785.8 234.4,792.2 238.7,797.6C243.0,803.0 247.3,808.0 251.6,812.7C255.9,817.4 260.2,821.7 264.5,825.6C268.8,829.5 272.4,833.1 277.4,836.3C282.4,839.5 288.2,842.3 294.6,845.0C301.1,847.7 308.9,850.2 316.1,852.5C323.3,854.8 330.4,857.6 337.6,858.9C344.8,860.1 353.3,860.3 359.1,860.0C364.9,859.7 367.7,858.5 372.3,857.0C376.9,855.5 382.1,854.0 387.0,851.1C391.9,848.2 396.7,843.8 401.6,839.4C406.5,835.0 411.8,828.6 416.2,824.8C420.6,821.0 424.5,818.0 428.0,816.5C431.5,815.0 433.8,815.1 437.0,815.5C440.2,815.9 444.0,817.0 447.0,819.0C450.0,821.0 452.2,824.4 455.0,827.6C457.8,830.8 460.9,834.4 464.0,838.0C467.1,841.6 469.6,845.2 473.9,849.5C478.1,853.8 484.3,859.4 489.5,863.6C494.7,867.8 500.0,872.2 505.2,874.6C510.4,877.0 515.0,876.6 520.8,877.7C526.6,878.8 534.1,879.9 540.0,881.0C545.9,882.1 550.2,883.6 556.0,884.5C561.8,885.4 567.6,885.6 574.6,886.3C581.6,887.0 590.5,887.8 598.0,888.7C605.5,889.6 615.9,891.1 619.5,891.6L619.5,915.5L74.0,915.5Z" fill="#fff"/>
<path d="M74.0,840.9C76.5,841.1 82.8,842.5 89.3,842.3C95.8,842.0 105.5,841.8 112.8,839.4C120.1,837.0 127.4,832.1 133.3,827.7C139.2,823.3 143.1,818.9 148.0,813.0C152.9,807.1 157.7,799.3 162.6,792.5C167.5,785.7 172.9,777.6 177.3,772.0C181.7,766.4 185.6,761.5 189.0,758.8C192.4,756.1 194.9,755.3 197.8,755.8C200.7,756.3 203.6,759.6 206.5,762.0C209.4,764.4 211.8,765.9 215.0,770.0C218.2,774.1 221.1,780.5 225.8,786.9C230.5,793.3 237.6,801.9 243.0,808.4C248.4,814.9 253.0,820.6 258.0,825.6C263.0,830.6 267.7,834.9 273.1,838.5C278.5,842.1 283.9,844.4 290.3,847.1C296.8,849.8 305.4,852.3 311.8,854.6C318.2,856.9 322.6,859.6 329.0,861.0C335.4,862.4 343.3,863.0 350.5,863.2C357.7,863.4 364.9,864.2 372.0,862.2C379.1,860.2 386.4,854.7 392.8,851.1C399.2,847.5 405.5,843.6 410.4,840.9C415.3,838.2 418.7,836.1 422.1,835.0C425.5,833.9 427.5,833.2 430.9,834.4C434.3,835.6 438.2,838.5 442.6,842.3C447.0,846.1 452.4,852.6 457.3,857.0C462.2,861.4 466.6,865.5 472.0,868.7C477.4,871.9 483.3,873.5 489.6,876.0C495.9,878.5 503.2,881.4 510.0,883.4C516.8,885.4 523.8,886.9 530.6,887.8C537.5,888.7 543.8,888.0 551.1,888.7C558.4,889.4 566.8,891.2 574.6,892.2C582.4,893.2 590.5,893.6 598.0,894.5C605.5,895.4 615.9,897.0 619.5,897.5L619.5,915.5L74.0,915.5Z" fill="#bebebe"/>
<path d="M74.0,763.2C76.5,763.9 84.3,767.9 89.3,767.6C94.3,767.4 99.1,762.9 104.0,761.7C108.9,760.5 113.8,761.7 118.7,760.2C123.6,758.7 128.4,755.8 133.3,752.9C138.2,750.0 143.1,747.2 148.0,742.6C152.9,738.0 157.7,731.8 162.6,725.0C167.5,718.2 172.9,709.4 177.3,701.6C181.7,693.8 185.3,683.1 189.0,678.1C192.7,673.1 196.4,672.6 199.3,671.7C202.2,670.8 202.8,670.2 206.5,672.9C210.2,675.6 216.8,682.3 221.5,688.0C226.2,693.7 230.5,700.5 234.4,707.3C238.3,714.1 241.6,722.3 245.2,728.8C248.8,735.2 252.0,739.2 255.9,746.0C259.8,752.8 264.5,763.2 268.8,769.7C273.1,776.2 277.4,780.6 281.7,784.7C286.0,788.8 290.3,791.5 294.6,794.4C298.9,797.3 303.6,799.4 307.5,801.9C311.4,804.4 313.3,807.0 318.3,809.5C323.3,812.0 330.8,815.4 337.6,817.0C344.4,818.6 353.3,820.0 359.1,819.1C364.9,818.2 367.7,814.6 372.3,811.6C376.9,808.6 382.6,804.7 387.0,801.3C391.4,797.9 394.8,794.9 398.7,791.0C402.6,787.1 406.5,781.5 410.4,777.8C414.3,774.1 418.7,770.5 422.1,769.0C425.5,767.5 427.5,767.0 430.9,769.0C434.3,771.0 438.7,775.9 442.6,780.8C446.5,785.7 450.5,792.0 454.4,798.4C458.3,804.8 462.2,812.8 466.1,818.9C470.0,825.0 473.4,830.1 477.8,835.0C482.2,839.9 487.6,843.8 492.5,848.2C497.4,852.6 502.3,857.5 507.2,861.4C512.1,865.3 516.4,869.3 521.8,871.7C527.2,874.1 533.5,874.0 539.4,876.0C545.3,878.0 551.6,880.2 557.0,883.4C562.4,886.6 566.3,892.8 571.7,895.1C577.1,897.5 583.9,896.9 589.3,897.5C594.7,898.1 599.0,898.2 604.0,899.0C609.0,899.8 616.9,901.9 619.5,902.5" fill="none" stroke="#0515dc" stroke-width="6.3" stroke-linejoin="round"/>
<path d="M74.0,840.9C76.5,841.1 82.8,842.5 89.3,842.3C95.8,842.0 105.5,841.8 112.8,839.4C120.1,837.0 127.4,832.1 133.3,827.7C139.2,823.3 143.1,818.9 148.0,813.0C152.9,807.1 157.7,799.3 162.6,792.5C167.5,785.7 172.9,777.6 177.3,772.0C181.7,766.4 185.6,761.5 189.0,758.8C192.4,756.1 194.9,755.3 197.8,755.8C200.7,756.3 203.6,759.6 206.5,762.0C209.4,764.4 211.8,765.9 215.0,770.0C218.2,774.1 221.1,780.5 225.8,786.9C230.5,793.3 237.6,801.9 243.0,808.4C248.4,814.9 253.0,820.6 258.0,825.6C263.0,830.6 267.7,834.9 273.1,838.5C278.5,842.1 283.9,844.4 290.3,847.1C296.8,849.8 305.4,852.3 311.8,854.6C318.2,856.9 322.6,859.6 329.0,861.0C335.4,862.4 343.3,863.0 350.5,863.2C357.7,863.4 364.9,864.2 372.0,862.2C379.1,860.2 386.4,854.7 392.8,851.1C399.2,847.5 405.5,843.6 410.4,840.9C415.3,838.2 418.7,836.1 422.1,835.0C425.5,833.9 427.5,833.2 430.9,834.4C434.3,835.6 438.2,838.5 442.6,842.3C447.0,846.1 452.4,852.6 457.3,857.0C462.2,861.4 466.6,865.5 472.0,868.7C477.4,871.9 483.3,873.5 489.6,876.0C495.9,878.5 503.2,881.4 510.0,883.4C516.8,885.4 523.8,886.9 530.6,887.8C537.5,888.7 543.8,888.0 551.1,888.7C558.4,889.4 566.8,891.2 574.6,892.2C582.4,893.2 590.5,893.6 598.0,894.5C605.5,895.4 615.9,897.0 619.5,897.5" fill="none" stroke="#111111" stroke-width="5.2" stroke-linejoin="round"/>
<path d="M74.0,849.7C76.5,849.7 82.8,850.2 89.3,849.7C95.8,849.2 105.5,849.2 112.8,846.7C120.1,844.2 127.4,839.4 133.3,835.0C139.2,830.6 143.1,826.5 148.0,820.4C152.9,814.3 157.7,806.0 162.6,798.4C167.5,790.8 172.9,781.0 177.3,774.9C181.7,768.8 185.1,764.5 189.0,761.7C192.9,758.9 196.8,757.7 200.8,758.3C204.8,758.9 208.7,761.7 212.9,765.4C217.1,769.1 221.5,775.0 225.8,780.4C230.1,785.8 234.4,792.2 238.7,797.6C243.0,803.0 247.3,808.0 251.6,812.7C255.9,817.4 260.2,821.7 264.5,825.6C268.8,829.5 272.4,833.1 277.4,836.3C282.4,839.5 288.2,842.3 294.6,845.0C301.1,847.7 308.9,850.2 316.1,852.5C323.3,854.8 330.4,857.6 337.6,858.9C344.8,860.1 353.3,860.3 359.1,860.0C364.9,859.7 367.7,858.5 372.3,857.0C376.9,855.5 382.1,854.0 387.0,851.1C391.9,848.2 396.7,843.8 401.6,839.4C406.5,835.0 411.8,828.6 416.2,824.8C420.6,821.0 424.5,818.0 428.0,816.5C431.5,815.0 433.8,815.1 437.0,815.5C440.2,815.9 444.0,817.0 447.0,819.0C450.0,821.0 452.2,824.4 455.0,827.6C457.8,830.8 460.9,834.4 464.0,838.0C467.1,841.6 469.6,845.2 473.9,849.5C478.1,853.8 484.3,859.4 489.5,863.6C494.7,867.8 500.0,872.2 505.2,874.6C510.4,877.0 515.0,876.6 520.8,877.7C526.6,878.8 534.1,879.9 540.0,881.0C545.9,882.1 550.2,883.6 556.0,884.5C561.8,885.4 567.6,885.6 574.6,886.3C581.6,887.0 590.5,887.8 598.0,888.7C605.5,889.6 615.9,891.1 619.5,891.6" fill="none" stroke="#e80000" stroke-width="6" stroke-linejoin="round" stroke-opacity="0.92"/>
</g>
<line x1="204.6" y1="543" x2="204.6" y2="913" stroke="#000" stroke-width="4"/>
<line x1="422" y1="542.5" x2="422" y2="911.5" stroke="#00b050" stroke-width="5"/>
<rect x="74" y="541.25" width="545.7" height="374.2" fill="none" stroke="#000" stroke-width="3.3"/>
<path d="M104.45,917V921M134.70,917V921M164.95,917V921M225.45,917V921M255.70,917V921M285.95,917V921M346.45,917V921M376.70,917V921M406.95,917V921M467.45,917V921M497.70,917V921M527.95,917V921M588.45,917V921M618.70,917V921M74.20,917V923.5M195.20,917V923.5M316.20,917V923.5M437.20,917V923.5M558.20,917V923.5" stroke="#000" stroke-width="1.6" fill="none"/>
<text x="36.02" y="956.95" font-size="34.93" style="font-weight:normal;font-style:normal" fill="#000" textLength="76.58" lengthAdjust="spacingAndGlyphs">1620</text>
<text x="156.86" y="956.95" font-size="34.93" style="font-weight:normal;font-style:normal" fill="#000" textLength="78.26" lengthAdjust="spacingAndGlyphs">1600</text>
<text x="277.88" y="956.95" font-size="34.93" style="font-weight:normal;font-style:normal" fill="#000" textLength="77.84" lengthAdjust="spacingAndGlyphs">1580</text>
<text x="398.36" y="956.95" font-size="34.93" style="font-weight:normal;font-style:normal" fill="#000" textLength="78.36" lengthAdjust="spacingAndGlyphs">1560</text>
<text x="517.90" y="956.95" font-size="34.93" style="font-weight:normal;font-style:normal" fill="#000" textLength="79.94" lengthAdjust="spacingAndGlyphs">1540</text>
<text x="154.80" y="1002.55" font-size="43.10" style="font-weight:normal;font-style:normal" fill="#000" textLength="358.00" lengthAdjust="spacingAndGlyphs">wavenumber (cm</text>
<text x="508.41" y="989.90" font-size="24.78" style="font-weight:normal;font-style:normal" fill="#000" textLength="27.57" lengthAdjust="spacingAndGlyphs">-1</text>
<text x="537.50" y="1002.55" font-size="43.10" style="font-weight:normal;font-style:normal" fill="#000" textLength="13.57" lengthAdjust="spacingAndGlyphs">)</text>
<text transform="translate(56.21,923.96) rotate(-90)" x="0" y="0" font-size="44.71" style="font-weight:normal;font-style:normal" fill="#000" textLength="327.66" lengthAdjust="spacingAndGlyphs">Raman intensity</text>
<text x="19.92" y="575.62" font-size="47.06" style="font-weight:normal;font-style:normal" fill="#000" textLength="50.10" lengthAdjust="spacingAndGlyphs">(c)</text>
<rect x="220" y="560" width="78.70" height="12.20" fill="#4472c4"/>
<rect x="221" y="588" width="79.00" height="12.20" fill="#000"/>
<rect x="220" y="615.2" width="78.70" height="12.30" fill="#ff0000"/>
<text x="320.95" y="579.27" font-size="32.96" style="font-weight:normal;font-style:normal" fill="#000" textLength="89.01" lengthAdjust="spacingAndGlyphs">130 K</text>
<text x="321.31" y="607.65" font-size="34.51" style="font-weight:normal;font-style:normal" fill="#000" textLength="88.14" lengthAdjust="spacingAndGlyphs">290 K</text>
<text x="320.65" y="636.94" font-size="35.63" style="font-weight:normal;font-style:normal" fill="#000" textLength="88.30" lengthAdjust="spacingAndGlyphs">340 K</text>
<text x="117.00" y="602.84" font-size="43.64" style="font-weight:bold;font-style:normal" fill="#000" textLength="56.17" lengthAdjust="spacingAndGlyphs">(1)</text>
<text x="93.80" y="646.17" font-size="30.92" style="font-weight:normal;font-style:normal" fill="#000" textLength="17.29" lengthAdjust="spacingAndGlyphs">ν</text>
<text x="110.84" y="644.62" font-size="30.37" style="font-weight:bold;font-style:normal" fill="#000" textLength="54.97" lengthAdjust="spacingAndGlyphs">(CC)</text>
<text x="165.93" y="652.96" font-size="20.68" style="font-weight:bold;font-style:normal" fill="#000" textLength="24.93" lengthAdjust="spacingAndGlyphs">ph</text>
<text x="463.72" y="714.37" font-size="43.96" style="font-weight:bold;font-style:normal" fill="#00b050" textLength="55.84" lengthAdjust="spacingAndGlyphs">(2)</text>
<text x="441.00" y="758.75" font-size="27.22" style="font-weight:normal;font-style:normal" fill="#00b050" textLength="15.22" lengthAdjust="spacingAndGlyphs">ν</text>
<text x="456.00" y="757.39" font-size="26.74" style="font-weight:bold;font-style:normal" fill="#00b050" textLength="48.39" lengthAdjust="spacingAndGlyphs">(CC)</text>
<text x="504.11" y="764.73" font-size="18.21" style="font-weight:bold;font-style:normal" fill="#00b050" textLength="47.96" lengthAdjust="spacingAndGlyphs">phO</text>
<clipPath id="cd"><rect x="689.5" y="543" width="543.5" height="372.5"/></clipPath>
<g clip-path="url(#cd)">
<path d="M688.0,792.5C689.9,791.0 695.9,784.7 699.3,783.7C702.6,782.7 704.7,784.2 708.1,786.6C711.5,789.0 716.0,794.2 719.9,798.4C723.8,802.6 728.0,808.2 731.6,811.6C735.2,815.0 738.4,815.2 741.8,818.9C745.2,822.5 747.9,830.8 752.1,833.5C756.3,836.2 761.4,834.2 766.8,835.0C772.2,835.8 779.0,838.2 784.4,838.0C789.8,837.8 794.1,834.7 799.0,833.5C803.9,832.3 809.3,832.6 813.7,830.6C818.1,828.6 821.5,823.8 825.4,821.8C829.3,819.8 833.3,821.3 837.2,818.9C841.1,816.5 845.5,808.9 848.9,807.2C852.3,805.5 853.8,806.7 857.7,808.6C861.6,810.5 867.4,814.8 872.3,818.9C877.2,823.0 882.1,831.1 887.0,833.5C891.9,835.9 896.8,832.6 901.7,833.5C906.6,834.4 911.9,838.0 916.3,838.8C920.7,839.6 924.2,840.5 928.1,838.2C932.0,835.9 935.9,830.0 939.8,824.8C943.7,819.6 948.0,816.7 951.5,807.2C955.0,797.7 957.6,783.2 961.1,768.0C964.6,752.8 968.6,732.7 972.3,716.0C976.0,699.3 979.7,680.1 983.4,667.7C987.1,655.3 990.3,646.0 994.6,641.7C998.9,637.4 1005.1,638.0 1009.4,641.7C1013.7,645.4 1016.9,655.3 1020.6,664.0C1024.3,672.7 1028.0,685.4 1031.7,693.7C1035.4,702.1 1038.5,710.7 1042.8,714.1C1047.1,717.5 1053.4,712.6 1057.7,714.1C1062.0,715.6 1065.1,716.9 1068.8,723.4C1072.5,729.9 1076.3,742.0 1080.0,753.1C1083.7,764.2 1087.4,777.8 1091.1,790.2C1094.8,802.6 1098.5,816.2 1102.2,827.4C1105.9,838.5 1109.7,848.5 1113.4,857.1C1117.1,865.8 1120.2,872.8 1124.5,879.3C1128.8,885.8 1134.5,892.6 1139.4,896.0C1144.4,899.4 1149.2,899.2 1154.2,899.8C1159.2,900.4 1164.1,898.6 1169.1,899.8C1174.1,901.0 1178.4,905.3 1184.0,907.2C1189.6,909.1 1196.9,909.8 1202.5,911.0C1208.1,912.2 1212.3,914.6 1217.4,914.6C1222.5,914.6 1230.4,911.6 1233.0,911.0L1233.0,915.5L688.0,915.5Z" fill="#aae4f7"/>
<path d="M688.0,868.7C690.4,867.5 697.0,863.1 702.3,861.4C707.6,859.7 714.0,857.8 719.9,858.5C725.8,859.2 731.0,863.1 737.4,865.8C743.8,868.5 750.7,872.4 758.0,874.6C765.3,876.8 774.1,878.3 781.4,879.0C788.7,879.7 795.1,879.7 802.0,879.0C808.9,878.3 815.2,876.9 822.5,874.6C829.8,872.3 839.2,866.7 846.0,865.2C852.8,863.7 857.6,865.2 863.5,865.8C869.4,866.4 874.7,868.0 881.1,868.7C887.5,869.4 895.3,871.2 901.7,870.2C908.1,869.2 913.9,866.3 919.3,862.9C924.7,859.5 929.6,855.5 933.9,849.7C938.2,843.9 941.5,836.3 945.0,828.0C948.5,819.7 951.7,812.2 955.0,800.0C958.3,787.8 960.8,774.6 964.9,755.0C969.0,735.4 975.4,701.4 979.7,682.5C984.0,663.6 987.9,649.2 990.8,641.7C993.7,634.2 994.8,637.8 997.0,637.5C999.2,637.2 1001.5,637.4 1004.0,640.0C1006.5,642.6 1009.1,644.6 1012.0,653.0C1014.9,661.4 1018.6,679.6 1021.6,690.4C1024.6,701.2 1027.3,709.2 1030.0,718.0C1032.7,726.8 1034.5,732.9 1037.5,743.0C1040.5,753.1 1044.6,768.7 1048.0,778.4C1051.4,788.1 1053.0,792.0 1057.7,801.4C1062.4,810.8 1070.1,824.9 1076.3,834.8C1082.5,844.7 1088.6,852.8 1094.8,860.8C1101.0,868.8 1106.6,876.8 1113.4,883.0C1120.2,889.2 1125.8,894.2 1135.7,897.9C1145.6,901.6 1156.6,903.1 1172.8,905.3C1189.0,907.5 1223.0,910.0 1233.0,911.0L1233.0,915.5L688.0,915.5Z" fill="#fff"/>
<path d="M688.0,874.6C690.4,873.4 697.5,869.2 702.3,867.3C707.1,865.3 712.0,862.7 716.9,862.9C721.8,863.1 725.7,866.3 731.6,868.7C737.5,871.1 745.3,875.3 752.1,877.5C758.9,879.7 765.8,881.3 772.6,881.9C779.5,882.5 786.8,881.7 793.2,881.0C799.6,880.3 804.4,878.8 810.8,877.5C817.1,876.2 824.5,874.8 831.3,873.1C838.1,871.4 845.4,867.8 851.8,867.3C858.1,866.8 863.5,869.2 869.4,870.2C875.3,871.2 881.1,872.6 887.0,873.1C892.9,873.6 899.2,873.8 904.6,873.1C910.0,872.4 914.4,871.1 919.3,868.7C924.2,866.3 929.5,863.4 933.9,858.5C938.3,853.6 941.8,847.5 945.7,839.4C949.6,831.3 954.2,819.5 957.4,810.1C960.6,800.7 961.8,797.2 964.9,782.8C968.0,768.3 972.3,742.0 976.0,723.4C979.7,704.8 983.1,684.7 987.1,671.4C991.1,658.1 996.4,646.0 1000.1,643.5C1003.8,641.0 1006.0,648.1 1009.4,656.5C1012.8,664.9 1016.9,680.1 1020.6,693.7C1024.3,707.3 1028.0,724.0 1031.7,738.2C1035.4,752.4 1038.5,766.7 1042.8,779.1C1047.1,791.5 1052.1,802.0 1057.7,812.5C1063.3,823.0 1070.1,832.9 1076.3,842.2C1082.5,851.5 1088.6,860.8 1094.8,868.2C1101.0,875.6 1106.6,881.8 1113.4,886.8C1120.2,891.8 1127.0,895.1 1135.7,897.9C1144.4,900.7 1155.5,901.6 1165.4,903.5C1175.3,905.4 1183.8,907.6 1195.1,909.0C1206.4,910.4 1226.7,911.5 1233.0,912.0L1233.0,915.5L688.0,915.5Z" fill="#bcbcbc"/>
<path d="M688.0,792.5C689.9,791.0 695.9,784.7 699.3,783.7C702.6,782.7 704.7,784.2 708.1,786.6C711.5,789.0 716.0,794.2 719.9,798.4C723.8,802.6 728.0,808.2 731.6,811.6C735.2,815.0 738.4,815.2 741.8,818.9C745.2,822.5 747.9,830.8 752.1,833.5C756.3,836.2 761.4,834.2 766.8,835.0C772.2,835.8 779.0,838.2 784.4,838.0C789.8,837.8 794.1,834.7 799.0,833.5C803.9,832.3 809.3,832.6 813.7,830.6C818.1,828.6 821.5,823.8 825.4,821.8C829.3,819.8 833.3,821.3 837.2,818.9C841.1,816.5 845.5,808.9 848.9,807.2C852.3,805.5 853.8,806.7 857.7,808.6C861.6,810.5 867.4,814.8 872.3,818.9C877.2,823.0 882.1,831.1 887.0,833.5C891.9,835.9 896.8,832.6 901.7,833.5C906.6,834.4 911.9,838.0 916.3,838.8C920.7,839.6 924.2,840.5 928.1,838.2C932.0,835.9 935.9,830.0 939.8,824.8C943.7,819.6 948.0,816.7 951.5,807.2C955.0,797.7 957.6,783.2 961.1,768.0C964.6,752.8 968.6,732.7 972.3,716.0C976.0,699.3 979.7,680.1 983.4,667.7C987.1,655.3 990.3,646.0 994.6,641.7C998.9,637.4 1005.1,638.0 1009.4,641.7C1013.7,645.4 1016.9,655.3 1020.6,664.0C1024.3,672.7 1028.0,685.4 1031.7,693.7C1035.4,702.1 1038.5,710.7 1042.8,714.1C1047.1,717.5 1053.4,712.6 1057.7,714.1C1062.0,715.6 1065.1,716.9 1068.8,723.4C1072.5,729.9 1076.3,742.0 1080.0,753.1C1083.7,764.2 1087.4,777.8 1091.1,790.2C1094.8,802.6 1098.5,816.2 1102.2,827.4C1105.9,838.5 1109.7,848.5 1113.4,857.1C1117.1,865.8 1120.2,872.8 1124.5,879.3C1128.8,885.8 1134.5,892.6 1139.4,896.0C1144.4,899.4 1149.2,899.2 1154.2,899.8C1159.2,900.4 1164.1,898.6 1169.1,899.8C1174.1,901.0 1178.4,905.3 1184.0,907.2C1189.6,909.1 1196.9,909.8 1202.5,911.0C1208.1,912.2 1212.3,914.6 1217.4,914.6C1222.5,914.6 1230.4,911.6 1233.0,911.0" fill="none" stroke="#0515dc" stroke-width="6.3" stroke-linejoin="round"/>
<path d="M688.0,874.6C690.4,873.4 697.5,869.2 702.3,867.3C707.1,865.3 712.0,862.7 716.9,862.9C721.8,863.1 725.7,866.3 731.6,868.7C737.5,871.1 745.3,875.3 752.1,877.5C758.9,879.7 765.8,881.3 772.6,881.9C779.5,882.5 786.8,881.7 793.2,881.0C799.6,880.3 804.4,878.8 810.8,877.5C817.1,876.2 824.5,874.8 831.3,873.1C838.1,871.4 845.4,867.8 851.8,867.3C858.1,866.8 863.5,869.2 869.4,870.2C875.3,871.2 881.1,872.6 887.0,873.1C892.9,873.6 899.2,873.8 904.6,873.1C910.0,872.4 914.4,871.1 919.3,868.7C924.2,866.3 929.5,863.4 933.9,858.5C938.3,853.6 941.8,847.5 945.7,839.4C949.6,831.3 954.2,819.5 957.4,810.1C960.6,800.7 961.8,797.2 964.9,782.8C968.0,768.3 972.3,742.0 976.0,723.4C979.7,704.8 983.1,684.7 987.1,671.4C991.1,658.1 996.4,646.0 1000.1,643.5C1003.8,641.0 1006.0,648.1 1009.4,656.5C1012.8,664.9 1016.9,680.1 1020.6,693.7C1024.3,707.3 1028.0,724.0 1031.7,738.2C1035.4,752.4 1038.5,766.7 1042.8,779.1C1047.1,791.5 1052.1,802.0 1057.7,812.5C1063.3,823.0 1070.1,832.9 1076.3,842.2C1082.5,851.5 1088.6,860.8 1094.8,868.2C1101.0,875.6 1106.6,881.8 1113.4,886.8C1120.2,891.8 1127.0,895.1 1135.7,897.9C1144.4,900.7 1155.5,901.6 1165.4,903.5C1175.3,905.4 1183.8,907.6 1195.1,909.0C1206.4,910.4 1226.7,911.5 1233.0,912.0" fill="none" stroke="#111111" stroke-width="5.2" stroke-linejoin="round"/>
<path d="M688.0,868.7C690.4,867.5 697.0,863.1 702.3,861.4C707.6,859.7 714.0,857.8 719.9,858.5C725.8,859.2 731.0,863.1 737.4,865.8C743.8,868.5 750.7,872.4 758.0,874.6C765.3,876.8 774.1,878.3 781.4,879.0C788.7,879.7 795.1,879.7 802.0,879.0C808.9,878.3 815.2,876.9 822.5,874.6C829.8,872.3 839.2,866.7 846.0,865.2C852.8,863.7 857.6,865.2 863.5,865.8C869.4,866.4 874.7,868.0 881.1,868.7C887.5,869.4 895.3,871.2 901.7,870.2C908.1,869.2 913.9,866.3 919.3,862.9C924.7,859.5 929.6,855.5 933.9,849.7C938.2,843.9 941.5,836.3 945.0,828.0C948.5,819.7 951.7,812.2 955.0,800.0C958.3,787.8 960.8,774.6 964.9,755.0C969.0,735.4 975.4,701.4 979.7,682.5C984.0,663.6 987.9,649.2 990.8,641.7C993.7,634.2 994.8,637.8 997.0,637.5C999.2,637.2 1001.5,637.4 1004.0,640.0C1006.5,642.6 1009.1,644.6 1012.0,653.0C1014.9,661.4 1018.6,679.6 1021.6,690.4C1024.6,701.2 1027.3,709.2 1030.0,718.0C1032.7,726.8 1034.5,732.9 1037.5,743.0C1040.5,753.1 1044.6,768.7 1048.0,778.4C1051.4,788.1 1053.0,792.0 1057.7,801.4C1062.4,810.8 1070.1,824.9 1076.3,834.8C1082.5,844.7 1088.6,852.8 1094.8,860.8C1101.0,868.8 1106.6,876.8 1113.4,883.0C1120.2,889.2 1125.8,894.2 1135.7,897.9C1145.6,901.6 1156.6,903.1 1172.8,905.3C1189.0,907.5 1223.0,910.0 1233.0,911.0" fill="none" stroke="#e80000" stroke-width="6" stroke-linejoin="round" stroke-opacity="0.92"/>
</g>
<line x1="1008" y1="543" x2="1008" y2="911" stroke="#7030a0" stroke-width="4"/>
<line x1="1059" y1="543" x2="1059" y2="911" stroke="#7030a0" stroke-width="4"/>
<path d="M688,915.5V540.25H1233.3V916" fill="none" stroke="#000" stroke-width="3.3"/>
<path d="M686.5,915.5H1234" fill="none" stroke="#000" stroke-width="3"/>
<path d="M715.27,917V923M742.55,917V923M769.83,917V923M824.38,917V923M851.65,917V923M878.92,917V923M933.48,917V923M960.75,917V923M988.02,917V923M1042.58,917V923M1069.85,917V923M1097.12,917V923M1151.67,917V923M1178.95,917V923M1206.22,917V923M688.00,917V927M797.10,917V927M906.20,917V927M1015.30,917V927M1124.40,917V927M1233.50,917V927" stroke="#000" stroke-width="1.6" fill="none"/>
<text x="648.59" y="956.95" font-size="34.93" style="font-weight:normal;font-style:normal" fill="#000" textLength="77.42" lengthAdjust="spacingAndGlyphs">1200</text>
<text x="757.59" y="956.95" font-size="34.93" style="font-weight:normal;font-style:normal" fill="#000" textLength="77.59" lengthAdjust="spacingAndGlyphs">1180</text>
<text x="866.69" y="956.95" font-size="34.93" style="font-weight:normal;font-style:normal" fill="#000" textLength="77.59" lengthAdjust="spacingAndGlyphs">1160</text>
<text x="975.79" y="956.95" font-size="34.93" style="font-weight:normal;font-style:normal" fill="#000" textLength="77.59" lengthAdjust="spacingAndGlyphs">1140</text>
<text x="1084.89" y="956.95" font-size="34.93" style="font-weight:normal;font-style:normal" fill="#000" textLength="77.59" lengthAdjust="spacingAndGlyphs">1120</text>
<text x="1193.99" y="956.95" font-size="34.93" style="font-weight:normal;font-style:normal" fill="#000" textLength="77.59" lengthAdjust="spacingAndGlyphs">1100</text>
<text x="774.90" y="1002.55" font-size="43.10" style="font-weight:normal;font-style:normal" fill="#000" textLength="358.00" lengthAdjust="spacingAndGlyphs">wavenumber (cm</text>
<text x="1128.51" y="989.90" font-size="24.78" style="font-weight:normal;font-style:normal" fill="#000" textLength="27.57" lengthAdjust="spacingAndGlyphs">-1</text>
<text x="1157.60" y="1002.55" font-size="43.10" style="font-weight:normal;font-style:normal" fill="#000" textLength="13.57" lengthAdjust="spacingAndGlyphs">)</text>
<text x="626.03" y="574.62" font-size="47.06" style="font-weight:normal;font-style:normal" fill="#000" textLength="56.45" lengthAdjust="spacingAndGlyphs">(d)</text>
<rect x="698.2" y="556.2" width="78.80" height="12.10" fill="#4472c4"/>
<rect x="698.8" y="584" width="79.20" height="12.20" fill="#000"/>
<rect x="698.2" y="611" width="78.80" height="12.60" fill="#ff0000"/>
<text x="799.25" y="576.36" font-size="34.37" style="font-weight:normal;font-style:normal" fill="#000" textLength="89.01" lengthAdjust="spacingAndGlyphs">130 K</text>
<text x="799.11" y="603.66" font-size="34.37" style="font-weight:normal;font-style:normal" fill="#000" textLength="88.24" lengthAdjust="spacingAndGlyphs">290 K</text>
<text x="798.55" y="633.04" font-size="35.77" style="font-weight:normal;font-style:normal" fill="#000" textLength="88.20" lengthAdjust="spacingAndGlyphs">340 K</text>
<text x="870.02" y="689.78" font-size="42.46" style="font-weight:bold;font-style:normal" fill="#7030a0" textLength="55.84" lengthAdjust="spacingAndGlyphs">(3)</text>
<text x="847.40" y="733.97" font-size="27.11" style="font-weight:normal;font-style:normal" fill="#7030a0" textLength="15.16" lengthAdjust="spacingAndGlyphs">ν</text>
<text x="862.25" y="732.61" font-size="26.63" style="font-weight:bold;font-style:normal" fill="#7030a0" textLength="52.00" lengthAdjust="spacingAndGlyphs">(CN)</text>
<text x="914.72" y="740.17" font-size="17.29" style="font-weight:bold;font-style:normal" fill="#7030a0" textLength="52.14" lengthAdjust="spacingAndGlyphs">azo1</text>
<text x="1099.89" y="606.94" font-size="41.71" style="font-weight:bold;font-style:normal" fill="#7030a0" textLength="56.50" lengthAdjust="spacingAndGlyphs">(4)</text>
<text x="1076.20" y="653.98" font-size="28.31" style="font-weight:normal;font-style:normal" fill="#7030a0" textLength="15.83" lengthAdjust="spacingAndGlyphs">ν</text>
<text x="1091.71" y="652.56" font-size="27.81" style="font-weight:bold;font-style:normal" fill="#7030a0" textLength="54.29" lengthAdjust="spacingAndGlyphs">(CN)</text>
<text x="1146.56" y="660.46" font-size="17.80" style="font-weight:bold;font-style:normal" fill="#7030a0" textLength="49.40" lengthAdjust="spacingAndGlyphs">azo2</text>
<circle cx="1496.1" cy="213.8" r="10" fill="#000"/>
<circle cx="1524.6" cy="219.4" r="10" fill="#000"/>
<circle cx="1566.5" cy="219.4" r="10" fill="#000"/>
<circle cx="1609" cy="238" r="10" fill="#000"/>
<circle cx="1693.1" cy="195.6" r="10" fill="#000"/>
<circle cx="1735.3" cy="132.6" r="10" fill="#000"/>
<circle cx="1792.3" cy="92.6" r="10" fill="#000"/>
<circle cx="1819.5" cy="99.5" r="10" fill="#000"/>
<circle cx="1848" cy="96.9" r="10" fill="#000"/>
<circle cx="1876" cy="117.3" r="10" fill="#000"/>
<rect x="1411" y="28" width="561" height="90.5" fill="#ffff00" fill-opacity="0.37"/>
<rect x="1411" y="186.5" width="561" height="191" fill="#ffff00" fill-opacity="0.37"/>
<circle cx="1903.9" cy="160.7" r="10" fill="#000"/>
<clipPath id="cle2"><ellipse cx="1791" cy="69.5" rx="19.2" ry="39.7"/></clipPath>
<rect x="1486.7" y="329.1" width="20.2" height="20" fill="#ff6600"/>
<rect x="1514.4" y="338.0" width="20.2" height="20" fill="#ff6600"/>
<rect x="1557.0" y="330.7" width="20.2" height="20" fill="#ff6600"/>
<rect x="1598.9" y="340.6" width="20.2" height="20" fill="#ff6600"/>
<rect x="1683.5" y="204.0" width="20.2" height="20" fill="#ff6600"/>
<rect x="1725.5" y="38.1" width="20.2" height="20" fill="#ff6600"/>
<rect x="1781.4" y="31.5" width="20.2" height="20" fill="#ff6600" clip-path="url(#cle2)"/>
<rect x="1810.2" y="59.5" width="20.2" height="20" fill="#ff6600"/>
<rect x="1837.9" y="64.0" width="20.2" height="20" fill="#ff6600"/>
<rect x="1865.9" y="85.9" width="20.2" height="20" fill="#ff6600"/>
<ellipse cx="1495.7" cy="278" rx="20.7" ry="88" fill="#5816f1" fill-opacity="0.3" stroke="#5010f8" stroke-width="2.6"/>
<ellipse cx="1791" cy="69.5" rx="19.2" ry="39.7" fill="#5816f1" fill-opacity="0.3" stroke="#5010f8" stroke-width="2.6"/>
<ellipse cx="1904.7" cy="144.8" rx="19.6" ry="38.2" fill="#5816f1" fill-opacity="0.2" stroke="#5010f8" stroke-width="2.6"/>
<rect x="1893.8" y="120" width="20.3" height="20.4" fill="#dc0a3c"/>
<path d="M1499.5,192.4L1733,86.1" stroke="#4472c4" stroke-width="12.5" stroke-dasharray="44.5 16.3" fill="none"/>
<polygon points="1770.4,69.2 1721.7,66.7 1740.3,107.3" fill="#4472c4"/>
<path d="M1810,46H1906.6V64" stroke="#4472c4" stroke-width="13.5" stroke-dasharray="45 16.6 200" fill="none" stroke-linejoin="miter"/>
<polygon points="1884.4,62.1 1928.9,62.1 1906,106.6" fill="#4472c4"/>
<rect x="1411.25" y="27.2" width="560.8" height="385" fill="none" stroke="#000" stroke-width="3.6"/>
<path d="M1403.6,411.60H1411M1403.6,334.90H1411M1403.6,258.20H1411M1403.6,181.50H1411M1403.6,104.80H1411M1403.6,28.10H1411" stroke="#000" stroke-width="1.5"/>
<path d="M1410.20,412V418M1550.40,412V418M1690.60,412V418M1830.80,412V418M1971.00,412V418" stroke="#000" stroke-width="1.5"/>
<text x="1348.11" y="31.91" font-size="33.01" style="font-weight:normal;font-style:normal" fill="#000" textLength="47.05" lengthAdjust="spacingAndGlyphs">2,5</text>
<text x="1375.38" y="109.50" font-size="33.43" style="font-weight:normal;font-style:normal" fill="#000" textLength="20.29" lengthAdjust="spacingAndGlyphs">2</text>
<text x="1350.28" y="185.36" font-size="33.41" style="font-weight:normal;font-style:normal" fill="#000" textLength="44.81" lengthAdjust="spacingAndGlyphs">1,5</text>
<text x="1379.10" y="262.60" font-size="31.74" style="font-weight:normal;font-style:normal" fill="#000" textLength="11.89" lengthAdjust="spacingAndGlyphs">1</text>
<text x="1348.06" y="339.06" font-size="28.80" style="font-weight:normal;font-style:normal" fill="#000" textLength="46.59" lengthAdjust="spacingAndGlyphs">0,5</text>
<text x="1376.29" y="415.61" font-size="28.59" style="font-weight:normal;font-style:normal" fill="#000" textLength="18.19" lengthAdjust="spacingAndGlyphs">0</text>
<text x="1377.77" y="451.92" font-size="38.03" style="font-weight:normal;font-style:normal" fill="#000" textLength="60.73" lengthAdjust="spacingAndGlyphs">150</text>
<text x="1516.64" y="451.92" font-size="38.03" style="font-weight:normal;font-style:normal" fill="#000" textLength="62.20" lengthAdjust="spacingAndGlyphs">200</text>
<text x="1656.72" y="451.92" font-size="38.03" style="font-weight:normal;font-style:normal" fill="#000" textLength="62.73" lengthAdjust="spacingAndGlyphs">250</text>
<text x="1798.43" y="451.92" font-size="38.03" style="font-weight:normal;font-style:normal" fill="#000" textLength="61.39" lengthAdjust="spacingAndGlyphs">300</text>
<text x="1939.03" y="451.92" font-size="38.03" style="font-weight:normal;font-style:normal" fill="#000" textLength="61.39" lengthAdjust="spacingAndGlyphs">350</text>
<text x="1536.18" y="512.70" font-size="47.17" style="font-weight:normal;font-style:normal" fill="#000" textLength="331.50" lengthAdjust="spacingAndGlyphs">Temperature (K)</text>
<text transform="translate(1327.16,472.46) rotate(-90)" x="0" y="0" font-size="27.81" style="font-weight:normal;font-style:normal" fill="#000" textLength="460.26" lengthAdjust="spacingAndGlyphs">relative Raman intensity (A1-<tspan fill="#ff0000">3</tspan>/A2-<tspan fill="#ff0000">4</tspan>)</text>
<text x="1247.43" y="44.97" font-size="46.31" style="font-weight:normal;font-style:normal" fill="#000" textLength="56.45" lengthAdjust="spacingAndGlyphs">(e)</text>
<text x="1450.39" y="87.74" font-size="45.51" style="font-weight:bold;font-style:normal" fill="#262626" textLength="192.22" lengthAdjust="spacingAndGlyphs">Aromatic</text>
<text x="1655.22" y="311.73" font-size="42.39" style="font-weight:bold;font-style:normal" fill="#262626" textLength="205.42" lengthAdjust="spacingAndGlyphs">Quinoidal</text>
<text x="1774.07" y="170.34" font-size="51.06" style="font-weight:bold;font-style:normal" fill="#262626" textLength="78.36" lengthAdjust="spacingAndGlyphs">PQ</text>
<rect x="1293.75" y="538.9" width="698" height="376.1" fill="none" stroke="#000" stroke-width="4.6"/>
<circle cx="1583.5" cy="743.2" r="22.8" fill="#7f00ff"/>
<circle cx="1625.7" cy="749.5" r="22.8" fill="#7f00ff"/>
<circle cx="1664" cy="712.3" r="22.8" fill="#7f00ff"/>
<circle cx="1709.4" cy="722.4" r="22.8" fill="#7f00ff"/>
<path d="M1333,693L1361.8,702M1389.2,669.2L1381,644.6M1375.5,742.3L1357.7,766.4M1445.3,715.7L1491.8,723.9M1576.5,739.5L1610,747.6M1639,737L1650.7,725.3M1679.7,715.9L1713.3,723.7M1793.9,741.7L1839.7,751.8M1910.8,730.2L1930.4,710.6M1922.3,773.4L1950.2,778.5M1894.3,801.3L1903.2,830.5" stroke="#000" stroke-width="6.2" fill="none"/>
<polygon points="1389.2,669.2 1433,675.5 1445.3,715.7 1419.3,750 1375.5,742.3 1361.8,702" fill="#5bd07b" stroke="#000" stroke-width="6.3" stroke-linejoin="miter"/>
<polygon points="1491.8,723.9 1519.2,691.1 1564.4,699.3 1576.5,739.5 1550.7,773.2 1505.5,766.4" fill="#999999" stroke="#000" stroke-width="6.3" stroke-linejoin="miter"/>
<polygon points="1713.3,723.7 1739.1,691.6 1782.9,700.2 1793.9,741.7 1765.7,773.7 1722.7,764.4" fill="#999999" stroke="#000" stroke-width="6.3" stroke-linejoin="miter"/>
<polygon points="1839.7,751.8 1868.9,720.8 1910.8,730.2 1922.3,773.4 1894.3,801.3 1849.9,792.4" fill="#5bd07b" stroke="#000" stroke-width="6.3" stroke-linejoin="miter"/>
<text x="1614.76" y="759.70" font-size="28.41" style="font-weight:normal;font-style:normal" fill="#000" textLength="21.15" lengthAdjust="spacingAndGlyphs">N</text>
<text x="1653.33" y="722.10" font-size="28.26" style="font-weight:normal;font-style:normal" fill="#000" textLength="21.41" lengthAdjust="spacingAndGlyphs">N</text>
<text x="1306.51" y="705.79" font-size="30.85" style="font-weight:normal;font-style:normal" fill="#000" textLength="23.96" lengthAdjust="spacingAndGlyphs">O</text>
<text x="1953.97" y="792.10" font-size="30.42" style="font-weight:normal;font-style:normal" fill="#000" textLength="23.05" lengthAdjust="spacingAndGlyphs">O</text>
<text x="1325.56" y="638.82" font-size="28.03" style="font-weight:normal;font-style:italic" fill="#000" textLength="8.89" lengthAdjust="spacingAndGlyphs">t</text>
<text x="1335.90" y="638.83" font-size="27.29" style="font-weight:normal;font-style:normal" fill="#000" textLength="47.11" lengthAdjust="spacingAndGlyphs">-Bu</text>
<text x="1301.00" y="786.70" font-size="30.30" style="font-weight:normal;font-style:italic" fill="#000" textLength="8.66" lengthAdjust="spacingAndGlyphs">t</text>
<text x="1311.07" y="786.71" font-size="29.43" style="font-weight:normal;font-style:normal" fill="#000" textLength="45.89" lengthAdjust="spacingAndGlyphs">-Bu</text>
<text x="1934.78" y="709.60" font-size="30.00" style="font-weight:normal;font-style:italic" fill="#000" textLength="8.79" lengthAdjust="spacingAndGlyphs">t</text>
<text x="1945.00" y="709.61" font-size="29.14" style="font-weight:normal;font-style:normal" fill="#000" textLength="46.58" lengthAdjust="spacingAndGlyphs">-Bu</text>
<text x="1900.58" y="855.70" font-size="30.00" style="font-weight:normal;font-style:italic" fill="#000" textLength="8.77" lengthAdjust="spacingAndGlyphs">t</text>
<text x="1910.78" y="855.71" font-size="29.14" style="font-weight:normal;font-style:normal" fill="#000" textLength="46.50" lengthAdjust="spacingAndGlyphs">-Bu</text>
<text x="1242.50" y="573.16" font-size="46.84" style="font-weight:normal;font-style:normal" fill="#000" textLength="47.20" lengthAdjust="spacingAndGlyphs">(f)</text>
<text x="1516.42" y="627.09" font-size="43.85" style="font-weight:bold;font-style:normal" fill="#000" textLength="55.63" lengthAdjust="spacingAndGlyphs">(1)</text>
<text x="1493.20" y="671.36" font-size="29.72" style="font-weight:normal;font-style:normal" fill="#000" textLength="16.62" lengthAdjust="spacingAndGlyphs">ν</text>
<text x="1509.58" y="669.87" font-size="29.20" style="font-weight:bold;font-style:normal" fill="#000" textLength="52.85" lengthAdjust="spacingAndGlyphs">(CC)</text>
<text x="1562.27" y="677.89" font-size="19.88" style="font-weight:bold;font-style:normal" fill="#000" textLength="28.99" lengthAdjust="spacingAndGlyphs">ph</text>
<text x="1379.67" y="829.60" font-size="43.58" style="font-weight:bold;font-style:normal" fill="#00b050" textLength="57.04" lengthAdjust="spacingAndGlyphs">(2)</text>
<text x="1356.30" y="873.25" font-size="27.22" style="font-weight:normal;font-style:normal" fill="#00b050" textLength="15.22" lengthAdjust="spacingAndGlyphs">ν</text>
<text x="1371.30" y="871.89" font-size="26.74" style="font-weight:bold;font-style:normal" fill="#00b050" textLength="48.39" lengthAdjust="spacingAndGlyphs">(CC)</text>
<text x="1419.32" y="879.23" font-size="18.21" style="font-weight:bold;font-style:normal" fill="#00b050" textLength="50.61" lengthAdjust="spacingAndGlyphs">phO</text>
<text x="1567.67" y="834.49" font-size="44.12" style="font-weight:bold;font-style:normal" fill="#7030a0" textLength="57.04" lengthAdjust="spacingAndGlyphs">(3)</text>
<text x="1708.97" y="834.49" font-size="44.12" style="font-weight:bold;font-style:normal" fill="#7030a0" textLength="57.04" lengthAdjust="spacingAndGlyphs">(4)</text>
<text x="1553.80" y="878.05" font-size="28.52" style="font-weight:normal;font-style:normal" fill="#7030a0" textLength="15.95" lengthAdjust="spacingAndGlyphs">ν</text>
<text x="1569.43" y="876.62" font-size="28.02" style="font-weight:bold;font-style:normal" fill="#7030a0" textLength="54.71" lengthAdjust="spacingAndGlyphs">(CN)</text>
<text x="1624.71" y="884.57" font-size="18.19" style="font-weight:bold;font-style:normal" fill="#7030a0" textLength="49.42" lengthAdjust="spacingAndGlyphs">azo1</text>
<text x="1672.75" y="877.93" font-size="29.51" style="font-weight:bold;font-style:normal" fill="#7030a0" textLength="11.31" lengthAdjust="spacingAndGlyphs">,</text>
<text x="1693.80" y="878.05" font-size="28.52" style="font-weight:normal;font-style:normal" fill="#7030a0" textLength="15.95" lengthAdjust="spacingAndGlyphs">ν</text>
<text x="1709.43" y="876.62" font-size="28.02" style="font-weight:bold;font-style:normal" fill="#7030a0" textLength="54.71" lengthAdjust="spacingAndGlyphs">(CN)</text>
<text x="1764.70" y="884.57" font-size="17.93" style="font-weight:bold;font-style:normal" fill="#7030a0" textLength="50.07" lengthAdjust="spacingAndGlyphs">azo2</text>
<text x="1353.60" y="971.90" font-size="39.86" style="font-weight:normal;font-style:normal" fill="#000" textLength="624.05" lengthAdjust="spacingAndGlyphs">vibrational normal mode localization</text>
</svg>
</body></html>
